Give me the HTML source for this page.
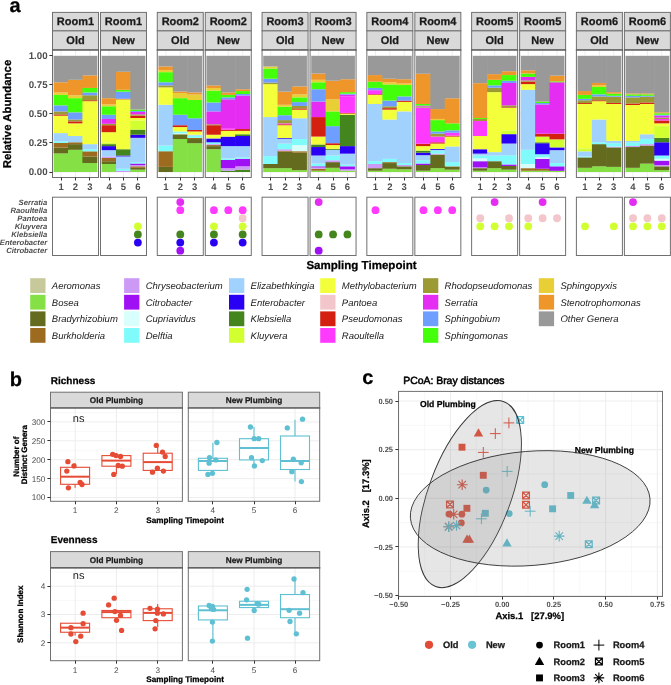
<!DOCTYPE html><html><head><meta charset="utf-8"><style>html,body{margin:0;padding:0;background:#fff;}svg{display:block;will-change:transform;}text{font-family:"Liberation Sans", sans-serif;text-rendering:geometricPrecision;}</style></head><body>
<svg width="671" height="685" viewBox="0 0 671 685">
<rect x="0" y="0" width="671" height="685" fill="#ffffff"/>
<text x="9.6" y="12.4" font-size="20" font-weight="bold" font-style="normal" text-anchor="start" fill="#000" stroke="#000" stroke-width="0.25">a</text>
<rect x="52.5" y="12.4" width="46" height="18.5" fill="#d9d9d9" stroke="#707070" stroke-width="1"/>
<rect x="52.5" y="30.9" width="46" height="19.1" fill="#d9d9d9" stroke="#707070" stroke-width="1"/>
<text x="75.5" y="25.2" font-size="11" font-weight="bold" font-style="normal" text-anchor="middle" fill="#1a1a1a" stroke="#1a1a1a" stroke-width="0.25">Room1</text>
<text x="75.5" y="44.4" font-size="11" font-weight="bold" font-style="normal" text-anchor="middle" fill="#1a1a1a" stroke="#1a1a1a" stroke-width="0.25">Old</text>
<rect x="52.5" y="50" width="46" height="127.5" fill="#ffffff"/>
<line x1="52.5" y1="157.49" x2="98.5" y2="157.49" stroke="#f1f1f1" stroke-width="0.5"/>
<line x1="52.5" y1="128.46" x2="98.5" y2="128.46" stroke="#f1f1f1" stroke-width="0.5"/>
<line x1="52.5" y1="99.44" x2="98.5" y2="99.44" stroke="#f1f1f1" stroke-width="0.5"/>
<line x1="52.5" y1="70.41" x2="98.5" y2="70.41" stroke="#f1f1f1" stroke-width="0.5"/>
<line x1="52.5" y1="172" x2="98.5" y2="172" stroke="#ebebeb" stroke-width="0.9"/>
<line x1="52.5" y1="142.97" x2="98.5" y2="142.97" stroke="#ebebeb" stroke-width="0.9"/>
<line x1="52.5" y1="113.95" x2="98.5" y2="113.95" stroke="#ebebeb" stroke-width="0.9"/>
<line x1="52.5" y1="84.93" x2="98.5" y2="84.93" stroke="#ebebeb" stroke-width="0.9"/>
<line x1="52.5" y1="55.9" x2="98.5" y2="55.9" stroke="#ebebeb" stroke-width="0.9"/>
<line x1="61.12" y1="50" x2="61.12" y2="177.5" stroke="#ebebeb" stroke-width="0.9"/>
<line x1="75.5" y1="50" x2="75.5" y2="177.5" stroke="#ebebeb" stroke-width="0.9"/>
<line x1="89.88" y1="50" x2="89.88" y2="177.5" stroke="#ebebeb" stroke-width="0.9"/>
<rect x="53.64" y="153.42" width="14.97" height="18.58" fill="#85e045"/>
<rect x="53.64" y="147.62" width="14.97" height="5.81" fill="#646b1e"/>
<rect x="53.64" y="142.97" width="14.97" height="4.64" fill="#9c6b20"/>
<rect x="53.64" y="141.23" width="14.97" height="1.74" fill="#80fbfb"/>
<rect x="53.64" y="133.11" width="14.97" height="8.13" fill="#a0d2fd"/>
<rect x="53.64" y="115.69" width="14.97" height="17.41" fill="#f2ff3a"/>
<rect x="53.64" y="114.41" width="14.97" height="1.28" fill="#d42010"/>
<rect x="53.64" y="111.4" width="14.97" height="3.02" fill="#9c9a35"/>
<rect x="53.64" y="105.36" width="14.97" height="6.04" fill="#6e9eff"/>
<rect x="53.64" y="94.91" width="14.97" height="10.45" fill="#44ff0a"/>
<rect x="53.64" y="92.47" width="14.97" height="2.44" fill="#e8cf35"/>
<rect x="53.64" y="82.25" width="14.97" height="10.22" fill="#ee962a"/>
<rect x="53.64" y="55.9" width="14.97" height="26.35" fill="#999999"/>
<rect x="68.01" y="149.82" width="14.97" height="22.18" fill="#85e045"/>
<rect x="68.01" y="144.14" width="14.97" height="5.69" fill="#646b1e"/>
<rect x="68.01" y="142.28" width="14.97" height="1.86" fill="#9c6b20"/>
<rect x="68.01" y="136.01" width="14.97" height="6.27" fill="#a0d2fd"/>
<rect x="68.01" y="123.35" width="14.97" height="12.65" fill="#f2ff3a"/>
<rect x="68.01" y="121.38" width="14.97" height="1.97" fill="#d42010"/>
<rect x="68.01" y="119.52" width="14.97" height="1.86" fill="#9c9a35"/>
<rect x="68.01" y="112.32" width="14.97" height="7.2" fill="#6e9eff"/>
<rect x="68.01" y="98.16" width="14.97" height="14.16" fill="#44ff0a"/>
<rect x="68.01" y="95.26" width="14.97" height="2.9" fill="#e8cf35"/>
<rect x="68.01" y="79.82" width="14.97" height="15.44" fill="#ee962a"/>
<rect x="68.01" y="55.9" width="14.97" height="23.92" fill="#999999"/>
<rect x="82.39" y="163.06" width="14.97" height="8.94" fill="#85e045"/>
<rect x="82.39" y="156.44" width="14.97" height="6.62" fill="#646b1e"/>
<rect x="82.39" y="151.33" width="14.97" height="5.11" fill="#9c6b20"/>
<rect x="82.39" y="149.24" width="14.97" height="2.09" fill="#80fbfb"/>
<rect x="82.39" y="144.14" width="14.97" height="5.11" fill="#a0d2fd"/>
<rect x="82.39" y="101.18" width="14.97" height="42.96" fill="#f2ff3a"/>
<rect x="82.39" y="100.25" width="14.97" height="0.93" fill="#d42010"/>
<rect x="82.39" y="95.26" width="14.97" height="4.99" fill="#9c9a35"/>
<rect x="82.39" y="92.47" width="14.97" height="2.79" fill="#6e9eff"/>
<rect x="82.39" y="87.94" width="14.97" height="4.53" fill="#44ff0a"/>
<rect x="82.39" y="75.4" width="14.97" height="12.54" fill="#ee962a"/>
<rect x="82.39" y="55.9" width="14.97" height="19.5" fill="#999999"/>
<rect x="52.5" y="50" width="46" height="127.5" fill="none" stroke="#707070" stroke-width="1"/>
<line x1="52" y1="50" x2="99" y2="50" stroke="#585858" stroke-width="1.2"/>
<line x1="61.5" y1="177.5" x2="61.5" y2="180.5" stroke="#333333" stroke-width="1"/>
<text x="61.12" y="189.6" font-size="9.5" font-weight="bold" font-style="normal" text-anchor="middle" fill="#4d4d4d">1</text>
<line x1="75.5" y1="177.5" x2="75.5" y2="180.5" stroke="#333333" stroke-width="1"/>
<text x="75.5" y="189.6" font-size="9.5" font-weight="bold" font-style="normal" text-anchor="middle" fill="#4d4d4d">2</text>
<line x1="89.5" y1="177.5" x2="89.5" y2="180.5" stroke="#333333" stroke-width="1"/>
<text x="89.88" y="189.6" font-size="9.5" font-weight="bold" font-style="normal" text-anchor="middle" fill="#4d4d4d">3</text>
<rect x="100.5" y="12.4" width="46" height="18.5" fill="#d9d9d9" stroke="#707070" stroke-width="1"/>
<rect x="100.5" y="30.9" width="46" height="19.1" fill="#d9d9d9" stroke="#707070" stroke-width="1"/>
<text x="123.5" y="25.2" font-size="11" font-weight="bold" font-style="normal" text-anchor="middle" fill="#1a1a1a" stroke="#1a1a1a" stroke-width="0.25">Room1</text>
<text x="123.5" y="44.4" font-size="11" font-weight="bold" font-style="normal" text-anchor="middle" fill="#1a1a1a" stroke="#1a1a1a" stroke-width="0.25">New</text>
<rect x="100.5" y="50" width="46" height="127.5" fill="#ffffff"/>
<line x1="100.5" y1="157.49" x2="146.5" y2="157.49" stroke="#f1f1f1" stroke-width="0.5"/>
<line x1="100.5" y1="128.46" x2="146.5" y2="128.46" stroke="#f1f1f1" stroke-width="0.5"/>
<line x1="100.5" y1="99.44" x2="146.5" y2="99.44" stroke="#f1f1f1" stroke-width="0.5"/>
<line x1="100.5" y1="70.41" x2="146.5" y2="70.41" stroke="#f1f1f1" stroke-width="0.5"/>
<line x1="100.5" y1="172" x2="146.5" y2="172" stroke="#ebebeb" stroke-width="0.9"/>
<line x1="100.5" y1="142.97" x2="146.5" y2="142.97" stroke="#ebebeb" stroke-width="0.9"/>
<line x1="100.5" y1="113.95" x2="146.5" y2="113.95" stroke="#ebebeb" stroke-width="0.9"/>
<line x1="100.5" y1="84.93" x2="146.5" y2="84.93" stroke="#ebebeb" stroke-width="0.9"/>
<line x1="100.5" y1="55.9" x2="146.5" y2="55.9" stroke="#ebebeb" stroke-width="0.9"/>
<line x1="109.12" y1="50" x2="109.12" y2="177.5" stroke="#ebebeb" stroke-width="0.9"/>
<line x1="123.5" y1="50" x2="123.5" y2="177.5" stroke="#ebebeb" stroke-width="0.9"/>
<line x1="137.88" y1="50" x2="137.88" y2="177.5" stroke="#ebebeb" stroke-width="0.9"/>
<rect x="101.64" y="163.99" width="14.97" height="8.01" fill="#85e045"/>
<rect x="101.64" y="161.2" width="14.97" height="2.79" fill="#646b1e"/>
<rect x="101.64" y="157.95" width="14.97" height="3.25" fill="#9c6b20"/>
<rect x="101.64" y="156.44" width="14.97" height="1.51" fill="#cc99f5"/>
<rect x="101.64" y="150.17" width="14.97" height="6.27" fill="#a0d2fd"/>
<rect x="101.64" y="146.11" width="14.97" height="4.06" fill="#2a00f5"/>
<rect x="101.64" y="144.14" width="14.97" height="1.97" fill="#45851e"/>
<rect x="101.64" y="142.63" width="14.97" height="1.51" fill="#d2ff30"/>
<rect x="101.64" y="132.18" width="14.97" height="10.45" fill="#f2ff3a"/>
<rect x="101.64" y="125.21" width="14.97" height="6.97" fill="#d42010"/>
<rect x="101.64" y="123.82" width="14.97" height="1.39" fill="#9c9a35"/>
<rect x="101.64" y="118.94" width="14.97" height="4.88" fill="#e52cf2"/>
<rect x="101.64" y="114.76" width="14.97" height="4.18" fill="#6e9eff"/>
<rect x="101.64" y="106.29" width="14.97" height="8.48" fill="#44ff0a"/>
<rect x="101.64" y="104.43" width="14.97" height="1.86" fill="#e8cf35"/>
<rect x="101.64" y="98.16" width="14.97" height="6.27" fill="#ee962a"/>
<rect x="101.64" y="55.9" width="14.97" height="42.26" fill="#999999"/>
<rect x="116.01" y="170.72" width="14.97" height="1.28" fill="#cc99f5"/>
<rect x="116.01" y="168.75" width="14.97" height="1.97" fill="#80fbfb"/>
<rect x="116.01" y="156.44" width="14.97" height="12.31" fill="#a0d2fd"/>
<rect x="116.01" y="155.51" width="14.97" height="0.93" fill="#2a00f5"/>
<rect x="116.01" y="149.24" width="14.97" height="6.27" fill="#45851e"/>
<rect x="116.01" y="99.32" width="14.97" height="49.92" fill="#f2ff3a"/>
<rect x="116.01" y="98.74" width="14.97" height="0.58" fill="#d42010"/>
<rect x="116.01" y="91.66" width="14.97" height="7.08" fill="#6e9eff"/>
<rect x="116.01" y="89.8" width="14.97" height="1.86" fill="#44ff0a"/>
<rect x="116.01" y="71.81" width="14.97" height="18" fill="#ee962a"/>
<rect x="116.01" y="55.9" width="14.97" height="15.91" fill="#999999"/>
<rect x="130.39" y="169.68" width="14.97" height="2.32" fill="#85e045"/>
<rect x="130.39" y="167.82" width="14.97" height="1.86" fill="#646b1e"/>
<rect x="130.39" y="166.31" width="14.97" height="1.51" fill="#9c6b20"/>
<rect x="130.39" y="165.03" width="14.97" height="1.28" fill="#cc99f5"/>
<rect x="130.39" y="163.52" width="14.97" height="1.51" fill="#a010f5"/>
<rect x="130.39" y="162.13" width="14.97" height="1.39" fill="#80fbfb"/>
<rect x="130.39" y="137.87" width="14.97" height="24.26" fill="#a0d2fd"/>
<rect x="130.39" y="134.73" width="14.97" height="3.13" fill="#2a00f5"/>
<rect x="130.39" y="129.62" width="14.97" height="5.11" fill="#45851e"/>
<rect x="130.39" y="120.45" width="14.97" height="9.17" fill="#d2ff30"/>
<rect x="130.39" y="118.01" width="14.97" height="2.44" fill="#f2ff3a"/>
<rect x="130.39" y="115.69" width="14.97" height="2.32" fill="#d42010"/>
<rect x="130.39" y="114.41" width="14.97" height="1.28" fill="#9c9a35"/>
<rect x="130.39" y="111.98" width="14.97" height="2.44" fill="#e52cf2"/>
<rect x="130.39" y="111.05" width="14.97" height="0.93" fill="#6e9eff"/>
<rect x="130.39" y="109.54" width="14.97" height="1.51" fill="#44ff0a"/>
<rect x="130.39" y="55.9" width="14.97" height="53.64" fill="#999999"/>
<rect x="100.5" y="50" width="46" height="127.5" fill="none" stroke="#707070" stroke-width="1"/>
<line x1="100" y1="50" x2="147" y2="50" stroke="#585858" stroke-width="1.2"/>
<line x1="109.5" y1="177.5" x2="109.5" y2="180.5" stroke="#333333" stroke-width="1"/>
<text x="109.12" y="189.6" font-size="9.5" font-weight="bold" font-style="normal" text-anchor="middle" fill="#4d4d4d">4</text>
<line x1="123.5" y1="177.5" x2="123.5" y2="180.5" stroke="#333333" stroke-width="1"/>
<text x="123.5" y="189.6" font-size="9.5" font-weight="bold" font-style="normal" text-anchor="middle" fill="#4d4d4d">5</text>
<line x1="137.5" y1="177.5" x2="137.5" y2="180.5" stroke="#333333" stroke-width="1"/>
<text x="137.88" y="189.6" font-size="9.5" font-weight="bold" font-style="normal" text-anchor="middle" fill="#4d4d4d">6</text>
<rect x="157.28" y="12.4" width="46" height="18.5" fill="#d9d9d9" stroke="#707070" stroke-width="1"/>
<rect x="157.28" y="30.9" width="46" height="19.1" fill="#d9d9d9" stroke="#707070" stroke-width="1"/>
<text x="180.28" y="25.2" font-size="11" font-weight="bold" font-style="normal" text-anchor="middle" fill="#1a1a1a" stroke="#1a1a1a" stroke-width="0.25">Room2</text>
<text x="180.28" y="44.4" font-size="11" font-weight="bold" font-style="normal" text-anchor="middle" fill="#1a1a1a" stroke="#1a1a1a" stroke-width="0.25">Old</text>
<rect x="157.28" y="50" width="46" height="127.5" fill="#ffffff"/>
<line x1="157.28" y1="157.49" x2="203.28" y2="157.49" stroke="#f1f1f1" stroke-width="0.5"/>
<line x1="157.28" y1="128.46" x2="203.28" y2="128.46" stroke="#f1f1f1" stroke-width="0.5"/>
<line x1="157.28" y1="99.44" x2="203.28" y2="99.44" stroke="#f1f1f1" stroke-width="0.5"/>
<line x1="157.28" y1="70.41" x2="203.28" y2="70.41" stroke="#f1f1f1" stroke-width="0.5"/>
<line x1="157.28" y1="172" x2="203.28" y2="172" stroke="#ebebeb" stroke-width="0.9"/>
<line x1="157.28" y1="142.97" x2="203.28" y2="142.97" stroke="#ebebeb" stroke-width="0.9"/>
<line x1="157.28" y1="113.95" x2="203.28" y2="113.95" stroke="#ebebeb" stroke-width="0.9"/>
<line x1="157.28" y1="84.93" x2="203.28" y2="84.93" stroke="#ebebeb" stroke-width="0.9"/>
<line x1="157.28" y1="55.9" x2="203.28" y2="55.9" stroke="#ebebeb" stroke-width="0.9"/>
<line x1="165.91" y1="50" x2="165.91" y2="177.5" stroke="#ebebeb" stroke-width="0.9"/>
<line x1="180.28" y1="50" x2="180.28" y2="177.5" stroke="#ebebeb" stroke-width="0.9"/>
<line x1="194.66" y1="50" x2="194.66" y2="177.5" stroke="#ebebeb" stroke-width="0.9"/>
<rect x="158.42" y="166.89" width="14.97" height="5.11" fill="#646b1e"/>
<rect x="158.42" y="151.22" width="14.97" height="15.67" fill="#9c6b20"/>
<rect x="158.42" y="145.53" width="14.97" height="5.69" fill="#80fbfb"/>
<rect x="158.42" y="104.78" width="14.97" height="40.75" fill="#a0d2fd"/>
<rect x="158.42" y="87.36" width="14.97" height="17.42" fill="#f2ff3a"/>
<rect x="158.42" y="85.39" width="14.97" height="1.97" fill="#9c9a35"/>
<rect x="158.42" y="82.25" width="14.97" height="3.13" fill="#6e9eff"/>
<rect x="158.42" y="72.15" width="14.97" height="10.1" fill="#44ff0a"/>
<rect x="158.42" y="69.95" width="14.97" height="2.21" fill="#e8cf35"/>
<rect x="158.42" y="66.47" width="14.97" height="3.48" fill="#ee962a"/>
<rect x="158.42" y="55.9" width="14.97" height="10.57" fill="#999999"/>
<rect x="172.79" y="139.03" width="14.97" height="32.97" fill="#85e045"/>
<rect x="172.79" y="134.27" width="14.97" height="4.76" fill="#646b1e"/>
<rect x="172.79" y="133.34" width="14.97" height="0.93" fill="#d8fffb"/>
<rect x="172.79" y="131.48" width="14.97" height="1.86" fill="#80fbfb"/>
<rect x="172.79" y="127.07" width="14.97" height="4.41" fill="#f2ff3a"/>
<rect x="172.79" y="125.21" width="14.97" height="1.86" fill="#d42010"/>
<rect x="172.79" y="114.76" width="14.97" height="10.45" fill="#6e9eff"/>
<rect x="172.79" y="98.16" width="14.97" height="16.6" fill="#44ff0a"/>
<rect x="172.79" y="93.05" width="14.97" height="5.11" fill="#e8cf35"/>
<rect x="172.79" y="91.54" width="14.97" height="1.51" fill="#ee962a"/>
<rect x="172.79" y="55.9" width="14.97" height="35.64" fill="#999999"/>
<rect x="187.17" y="143.21" width="14.97" height="28.79" fill="#85e045"/>
<rect x="187.17" y="139.03" width="14.97" height="4.18" fill="#646b1e"/>
<rect x="187.17" y="137.87" width="14.97" height="1.16" fill="#9c6b20"/>
<rect x="187.17" y="135.66" width="14.97" height="2.21" fill="#80fbfb"/>
<rect x="187.17" y="134.73" width="14.97" height="0.93" fill="#a0d2fd"/>
<rect x="187.17" y="131.48" width="14.97" height="3.25" fill="#f2ff3a"/>
<rect x="187.17" y="129.97" width="14.97" height="1.51" fill="#d42010"/>
<rect x="187.17" y="118.25" width="14.97" height="11.73" fill="#6e9eff"/>
<rect x="187.17" y="100.02" width="14.97" height="18.23" fill="#44ff0a"/>
<rect x="187.17" y="94.56" width="14.97" height="5.46" fill="#e8cf35"/>
<rect x="187.17" y="92.47" width="14.97" height="2.09" fill="#ee962a"/>
<rect x="187.17" y="55.9" width="14.97" height="36.57" fill="#999999"/>
<rect x="157.28" y="50" width="46" height="127.5" fill="none" stroke="#707070" stroke-width="1"/>
<line x1="156.78" y1="50" x2="203.78" y2="50" stroke="#585858" stroke-width="1.2"/>
<line x1="165.5" y1="177.5" x2="165.5" y2="180.5" stroke="#333333" stroke-width="1"/>
<text x="165.91" y="189.6" font-size="9.5" font-weight="bold" font-style="normal" text-anchor="middle" fill="#4d4d4d">1</text>
<line x1="180.5" y1="177.5" x2="180.5" y2="180.5" stroke="#333333" stroke-width="1"/>
<text x="180.28" y="189.6" font-size="9.5" font-weight="bold" font-style="normal" text-anchor="middle" fill="#4d4d4d">2</text>
<line x1="194.5" y1="177.5" x2="194.5" y2="180.5" stroke="#333333" stroke-width="1"/>
<text x="194.66" y="189.6" font-size="9.5" font-weight="bold" font-style="normal" text-anchor="middle" fill="#4d4d4d">3</text>
<rect x="205.28" y="12.4" width="46" height="18.5" fill="#d9d9d9" stroke="#707070" stroke-width="1"/>
<rect x="205.28" y="30.9" width="46" height="19.1" fill="#d9d9d9" stroke="#707070" stroke-width="1"/>
<text x="228.28" y="25.2" font-size="11" font-weight="bold" font-style="normal" text-anchor="middle" fill="#1a1a1a" stroke="#1a1a1a" stroke-width="0.25">Room2</text>
<text x="228.28" y="44.4" font-size="11" font-weight="bold" font-style="normal" text-anchor="middle" fill="#1a1a1a" stroke="#1a1a1a" stroke-width="0.25">New</text>
<rect x="205.28" y="50" width="46" height="127.5" fill="#ffffff"/>
<line x1="205.28" y1="157.49" x2="251.28" y2="157.49" stroke="#f1f1f1" stroke-width="0.5"/>
<line x1="205.28" y1="128.46" x2="251.28" y2="128.46" stroke="#f1f1f1" stroke-width="0.5"/>
<line x1="205.28" y1="99.44" x2="251.28" y2="99.44" stroke="#f1f1f1" stroke-width="0.5"/>
<line x1="205.28" y1="70.41" x2="251.28" y2="70.41" stroke="#f1f1f1" stroke-width="0.5"/>
<line x1="205.28" y1="172" x2="251.28" y2="172" stroke="#ebebeb" stroke-width="0.9"/>
<line x1="205.28" y1="142.97" x2="251.28" y2="142.97" stroke="#ebebeb" stroke-width="0.9"/>
<line x1="205.28" y1="113.95" x2="251.28" y2="113.95" stroke="#ebebeb" stroke-width="0.9"/>
<line x1="205.28" y1="84.93" x2="251.28" y2="84.93" stroke="#ebebeb" stroke-width="0.9"/>
<line x1="205.28" y1="55.9" x2="251.28" y2="55.9" stroke="#ebebeb" stroke-width="0.9"/>
<line x1="213.91" y1="50" x2="213.91" y2="177.5" stroke="#ebebeb" stroke-width="0.9"/>
<line x1="228.28" y1="50" x2="228.28" y2="177.5" stroke="#ebebeb" stroke-width="0.9"/>
<line x1="242.66" y1="50" x2="242.66" y2="177.5" stroke="#ebebeb" stroke-width="0.9"/>
<rect x="206.42" y="149.24" width="14.97" height="22.76" fill="#85e045"/>
<rect x="206.42" y="146.11" width="14.97" height="3.13" fill="#646b1e"/>
<rect x="206.42" y="145.06" width="14.97" height="1.04" fill="#9c6b20"/>
<rect x="206.42" y="144.14" width="14.97" height="0.93" fill="#cc99f5"/>
<rect x="206.42" y="142.28" width="14.97" height="1.86" fill="#80fbfb"/>
<rect x="206.42" y="138.45" width="14.97" height="3.83" fill="#2a00f5"/>
<rect x="206.42" y="134.73" width="14.97" height="3.72" fill="#f2ff3a"/>
<rect x="206.42" y="125.21" width="14.97" height="9.52" fill="#d42010"/>
<rect x="206.42" y="124.28" width="14.97" height="0.93" fill="#9c9a35"/>
<rect x="206.42" y="111.4" width="14.97" height="12.89" fill="#e52cf2"/>
<rect x="206.42" y="102.46" width="14.97" height="8.94" fill="#6e9eff"/>
<rect x="206.42" y="90.61" width="14.97" height="11.84" fill="#44ff0a"/>
<rect x="206.42" y="87.94" width="14.97" height="2.67" fill="#e8cf35"/>
<rect x="206.42" y="85.51" width="14.97" height="2.44" fill="#ee962a"/>
<rect x="206.42" y="55.9" width="14.97" height="29.61" fill="#999999"/>
<rect x="220.79" y="170.72" width="14.97" height="1.28" fill="#45851e"/>
<rect x="220.79" y="168.17" width="14.97" height="2.55" fill="#cc99f5"/>
<rect x="220.79" y="159.93" width="14.97" height="8.24" fill="#a010f5"/>
<rect x="220.79" y="158.42" width="14.97" height="1.51" fill="#80fbfb"/>
<rect x="220.79" y="146.11" width="14.97" height="12.31" fill="#a0d2fd"/>
<rect x="220.79" y="136.59" width="14.97" height="9.52" fill="#2a00f5"/>
<rect x="220.79" y="130.9" width="14.97" height="5.69" fill="#f2ff3a"/>
<rect x="220.79" y="129.62" width="14.97" height="1.28" fill="#d42010"/>
<rect x="220.79" y="128.11" width="14.97" height="1.51" fill="#ff3aff"/>
<rect x="220.79" y="99.32" width="14.97" height="28.79" fill="#e52cf2"/>
<rect x="220.79" y="97.35" width="14.97" height="1.97" fill="#6e9eff"/>
<rect x="220.79" y="94.91" width="14.97" height="2.44" fill="#44ff0a"/>
<rect x="220.79" y="92.47" width="14.97" height="2.44" fill="#ee962a"/>
<rect x="220.79" y="55.9" width="14.97" height="36.57" fill="#999999"/>
<rect x="235.17" y="169.68" width="14.97" height="2.32" fill="#45851e"/>
<rect x="235.17" y="166.31" width="14.97" height="3.37" fill="#cc99f5"/>
<rect x="235.17" y="158.76" width="14.97" height="7.55" fill="#a010f5"/>
<rect x="235.17" y="157.37" width="14.97" height="1.39" fill="#80fbfb"/>
<rect x="235.17" y="146.11" width="14.97" height="11.26" fill="#a0d2fd"/>
<rect x="235.17" y="136.01" width="14.97" height="10.1" fill="#2a00f5"/>
<rect x="235.17" y="134.27" width="14.97" height="1.74" fill="#45851e"/>
<rect x="235.17" y="130.9" width="14.97" height="3.37" fill="#f2ff3a"/>
<rect x="235.17" y="129.04" width="14.97" height="1.86" fill="#d42010"/>
<rect x="235.17" y="95.49" width="14.97" height="33.55" fill="#e52cf2"/>
<rect x="235.17" y="93.98" width="14.97" height="1.51" fill="#6e9eff"/>
<rect x="235.17" y="91.08" width="14.97" height="2.9" fill="#44ff0a"/>
<rect x="235.17" y="89.22" width="14.97" height="1.86" fill="#ee962a"/>
<rect x="235.17" y="55.9" width="14.97" height="33.32" fill="#999999"/>
<rect x="205.28" y="50" width="46" height="127.5" fill="none" stroke="#707070" stroke-width="1"/>
<line x1="204.78" y1="50" x2="251.78" y2="50" stroke="#585858" stroke-width="1.2"/>
<line x1="213.5" y1="177.5" x2="213.5" y2="180.5" stroke="#333333" stroke-width="1"/>
<text x="213.91" y="189.6" font-size="9.5" font-weight="bold" font-style="normal" text-anchor="middle" fill="#4d4d4d">4</text>
<line x1="228.5" y1="177.5" x2="228.5" y2="180.5" stroke="#333333" stroke-width="1"/>
<text x="228.28" y="189.6" font-size="9.5" font-weight="bold" font-style="normal" text-anchor="middle" fill="#4d4d4d">5</text>
<line x1="242.5" y1="177.5" x2="242.5" y2="180.5" stroke="#333333" stroke-width="1"/>
<text x="242.66" y="189.6" font-size="9.5" font-weight="bold" font-style="normal" text-anchor="middle" fill="#4d4d4d">6</text>
<rect x="262.06" y="12.4" width="46" height="18.5" fill="#d9d9d9" stroke="#707070" stroke-width="1"/>
<rect x="262.06" y="30.9" width="46" height="19.1" fill="#d9d9d9" stroke="#707070" stroke-width="1"/>
<text x="285.06" y="25.2" font-size="11" font-weight="bold" font-style="normal" text-anchor="middle" fill="#1a1a1a" stroke="#1a1a1a" stroke-width="0.25">Room3</text>
<text x="285.06" y="44.4" font-size="11" font-weight="bold" font-style="normal" text-anchor="middle" fill="#1a1a1a" stroke="#1a1a1a" stroke-width="0.25">Old</text>
<rect x="262.06" y="50" width="46" height="127.5" fill="#ffffff"/>
<line x1="262.06" y1="157.49" x2="308.06" y2="157.49" stroke="#f1f1f1" stroke-width="0.5"/>
<line x1="262.06" y1="128.46" x2="308.06" y2="128.46" stroke="#f1f1f1" stroke-width="0.5"/>
<line x1="262.06" y1="99.44" x2="308.06" y2="99.44" stroke="#f1f1f1" stroke-width="0.5"/>
<line x1="262.06" y1="70.41" x2="308.06" y2="70.41" stroke="#f1f1f1" stroke-width="0.5"/>
<line x1="262.06" y1="172" x2="308.06" y2="172" stroke="#ebebeb" stroke-width="0.9"/>
<line x1="262.06" y1="142.97" x2="308.06" y2="142.97" stroke="#ebebeb" stroke-width="0.9"/>
<line x1="262.06" y1="113.95" x2="308.06" y2="113.95" stroke="#ebebeb" stroke-width="0.9"/>
<line x1="262.06" y1="84.93" x2="308.06" y2="84.93" stroke="#ebebeb" stroke-width="0.9"/>
<line x1="262.06" y1="55.9" x2="308.06" y2="55.9" stroke="#ebebeb" stroke-width="0.9"/>
<line x1="270.69" y1="50" x2="270.69" y2="177.5" stroke="#ebebeb" stroke-width="0.9"/>
<line x1="285.06" y1="50" x2="285.06" y2="177.5" stroke="#ebebeb" stroke-width="0.9"/>
<line x1="299.44" y1="50" x2="299.44" y2="177.5" stroke="#ebebeb" stroke-width="0.9"/>
<rect x="263.2" y="168.17" width="14.97" height="3.83" fill="#85e045"/>
<rect x="263.2" y="163.99" width="14.97" height="4.18" fill="#646b1e"/>
<rect x="263.2" y="156.09" width="14.97" height="7.89" fill="#80fbfb"/>
<rect x="263.2" y="117.08" width="14.97" height="39.01" fill="#a0d2fd"/>
<rect x="263.2" y="84.11" width="14.97" height="32.97" fill="#f2ff3a"/>
<rect x="263.2" y="82.6" width="14.97" height="1.51" fill="#9c9a35"/>
<rect x="263.2" y="78.77" width="14.97" height="3.83" fill="#6e9eff"/>
<rect x="263.2" y="68.44" width="14.97" height="10.33" fill="#44ff0a"/>
<rect x="263.2" y="66.47" width="14.97" height="1.97" fill="#e8cf35"/>
<rect x="263.2" y="55.9" width="14.97" height="10.57" fill="#999999"/>
<rect x="277.57" y="168.17" width="14.97" height="3.83" fill="#85e045"/>
<rect x="277.57" y="151.68" width="14.97" height="16.49" fill="#646b1e"/>
<rect x="277.57" y="150.75" width="14.97" height="0.93" fill="#9c6b20"/>
<rect x="277.57" y="149.24" width="14.97" height="1.51" fill="#cc99f5"/>
<rect x="277.57" y="143.56" width="14.97" height="5.69" fill="#80fbfb"/>
<rect x="277.57" y="138.91" width="14.97" height="4.64" fill="#a0d2fd"/>
<rect x="277.57" y="138.1" width="14.97" height="0.81" fill="#2a00f5"/>
<rect x="277.57" y="125.21" width="14.97" height="12.89" fill="#f2ff3a"/>
<rect x="277.57" y="124.28" width="14.97" height="0.93" fill="#d42010"/>
<rect x="277.57" y="123.35" width="14.97" height="0.93" fill="#ff3aff"/>
<rect x="277.57" y="120.1" width="14.97" height="3.25" fill="#9c9a35"/>
<rect x="277.57" y="115.23" width="14.97" height="4.88" fill="#6e9eff"/>
<rect x="277.57" y="106.64" width="14.97" height="8.59" fill="#44ff0a"/>
<rect x="277.57" y="104.78" width="14.97" height="1.86" fill="#e8cf35"/>
<rect x="277.57" y="91.66" width="14.97" height="13.12" fill="#ee962a"/>
<rect x="277.57" y="55.9" width="14.97" height="35.76" fill="#999999"/>
<rect x="291.95" y="170.14" width="14.97" height="1.86" fill="#85e045"/>
<rect x="291.95" y="152.73" width="14.97" height="17.42" fill="#646b1e"/>
<rect x="291.95" y="151.22" width="14.97" height="1.51" fill="#9c6b20"/>
<rect x="291.95" y="145.06" width="14.97" height="6.15" fill="#d8fffb"/>
<rect x="291.95" y="139.03" width="14.97" height="6.04" fill="#80fbfb"/>
<rect x="291.95" y="118.25" width="14.97" height="20.78" fill="#a0d2fd"/>
<rect x="291.95" y="109.65" width="14.97" height="8.59" fill="#f2ff3a"/>
<rect x="291.95" y="108.38" width="14.97" height="1.28" fill="#d42010"/>
<rect x="291.95" y="105.94" width="14.97" height="2.44" fill="#9c9a35"/>
<rect x="291.95" y="102.11" width="14.97" height="3.83" fill="#6e9eff"/>
<rect x="291.95" y="97.35" width="14.97" height="4.76" fill="#44ff0a"/>
<rect x="291.95" y="94.33" width="14.97" height="3.02" fill="#e8cf35"/>
<rect x="291.95" y="86.43" width="14.97" height="7.89" fill="#ee962a"/>
<rect x="291.95" y="55.9" width="14.97" height="30.53" fill="#999999"/>
<rect x="262.06" y="50" width="46" height="127.5" fill="none" stroke="#707070" stroke-width="1"/>
<line x1="261.56" y1="50" x2="308.56" y2="50" stroke="#585858" stroke-width="1.2"/>
<line x1="270.5" y1="177.5" x2="270.5" y2="180.5" stroke="#333333" stroke-width="1"/>
<text x="270.69" y="189.6" font-size="9.5" font-weight="bold" font-style="normal" text-anchor="middle" fill="#4d4d4d">1</text>
<line x1="285.5" y1="177.5" x2="285.5" y2="180.5" stroke="#333333" stroke-width="1"/>
<text x="285.06" y="189.6" font-size="9.5" font-weight="bold" font-style="normal" text-anchor="middle" fill="#4d4d4d">2</text>
<line x1="299.5" y1="177.5" x2="299.5" y2="180.5" stroke="#333333" stroke-width="1"/>
<text x="299.44" y="189.6" font-size="9.5" font-weight="bold" font-style="normal" text-anchor="middle" fill="#4d4d4d">3</text>
<rect x="310.06" y="12.4" width="46" height="18.5" fill="#d9d9d9" stroke="#707070" stroke-width="1"/>
<rect x="310.06" y="30.9" width="46" height="19.1" fill="#d9d9d9" stroke="#707070" stroke-width="1"/>
<text x="333.06" y="25.2" font-size="11" font-weight="bold" font-style="normal" text-anchor="middle" fill="#1a1a1a" stroke="#1a1a1a" stroke-width="0.25">Room3</text>
<text x="333.06" y="44.4" font-size="11" font-weight="bold" font-style="normal" text-anchor="middle" fill="#1a1a1a" stroke="#1a1a1a" stroke-width="0.25">New</text>
<rect x="310.06" y="50" width="46" height="127.5" fill="#ffffff"/>
<line x1="310.06" y1="157.49" x2="356.06" y2="157.49" stroke="#f1f1f1" stroke-width="0.5"/>
<line x1="310.06" y1="128.46" x2="356.06" y2="128.46" stroke="#f1f1f1" stroke-width="0.5"/>
<line x1="310.06" y1="99.44" x2="356.06" y2="99.44" stroke="#f1f1f1" stroke-width="0.5"/>
<line x1="310.06" y1="70.41" x2="356.06" y2="70.41" stroke="#f1f1f1" stroke-width="0.5"/>
<line x1="310.06" y1="172" x2="356.06" y2="172" stroke="#ebebeb" stroke-width="0.9"/>
<line x1="310.06" y1="142.97" x2="356.06" y2="142.97" stroke="#ebebeb" stroke-width="0.9"/>
<line x1="310.06" y1="113.95" x2="356.06" y2="113.95" stroke="#ebebeb" stroke-width="0.9"/>
<line x1="310.06" y1="84.93" x2="356.06" y2="84.93" stroke="#ebebeb" stroke-width="0.9"/>
<line x1="310.06" y1="55.9" x2="356.06" y2="55.9" stroke="#ebebeb" stroke-width="0.9"/>
<line x1="318.69" y1="50" x2="318.69" y2="177.5" stroke="#ebebeb" stroke-width="0.9"/>
<line x1="333.06" y1="50" x2="333.06" y2="177.5" stroke="#ebebeb" stroke-width="0.9"/>
<line x1="347.44" y1="50" x2="347.44" y2="177.5" stroke="#ebebeb" stroke-width="0.9"/>
<rect x="311.2" y="170.72" width="14.97" height="1.28" fill="#85e045"/>
<rect x="311.2" y="168.75" width="14.97" height="1.97" fill="#9c6b20"/>
<rect x="311.2" y="167.47" width="14.97" height="1.28" fill="#cc99f5"/>
<rect x="311.2" y="166.31" width="14.97" height="1.16" fill="#a010f5"/>
<rect x="311.2" y="163.52" width="14.97" height="2.79" fill="#80fbfb"/>
<rect x="311.2" y="155.51" width="14.97" height="8.01" fill="#a0d2fd"/>
<rect x="311.2" y="147.04" width="14.97" height="8.48" fill="#2a00f5"/>
<rect x="311.2" y="144.48" width="14.97" height="2.55" fill="#45851e"/>
<rect x="311.2" y="136.59" width="14.97" height="7.89" fill="#f2ff3a"/>
<rect x="311.2" y="117.08" width="14.97" height="19.5" fill="#d42010"/>
<rect x="311.2" y="101.53" width="14.97" height="15.56" fill="#e52cf2"/>
<rect x="311.2" y="89.22" width="14.97" height="12.31" fill="#6e9eff"/>
<rect x="311.2" y="82.25" width="14.97" height="6.97" fill="#44ff0a"/>
<rect x="311.2" y="79.82" width="14.97" height="2.44" fill="#e8cf35"/>
<rect x="311.2" y="73.55" width="14.97" height="6.27" fill="#ee962a"/>
<rect x="311.2" y="55.9" width="14.97" height="17.65" fill="#999999"/>
<rect x="325.57" y="167.82" width="14.97" height="4.18" fill="#85e045"/>
<rect x="325.57" y="162.13" width="14.97" height="5.69" fill="#646b1e"/>
<rect x="325.57" y="160.27" width="14.97" height="1.86" fill="#cc99f5"/>
<rect x="325.57" y="155.51" width="14.97" height="4.76" fill="#80fbfb"/>
<rect x="325.57" y="149.82" width="14.97" height="5.69" fill="#a0d2fd"/>
<rect x="325.57" y="148.9" width="14.97" height="0.93" fill="#45851e"/>
<rect x="325.57" y="145.06" width="14.97" height="3.83" fill="#f2ff3a"/>
<rect x="325.57" y="143.21" width="14.97" height="1.86" fill="#d42010"/>
<rect x="325.57" y="126.14" width="14.97" height="17.07" fill="#6e9eff"/>
<rect x="325.57" y="111.4" width="14.97" height="14.74" fill="#44ff0a"/>
<rect x="325.57" y="99.32" width="14.97" height="12.07" fill="#e8cf35"/>
<rect x="325.57" y="80.75" width="14.97" height="18.58" fill="#ee962a"/>
<rect x="325.57" y="55.9" width="14.97" height="24.85" fill="#999999"/>
<rect x="339.95" y="170.72" width="14.97" height="1.28" fill="#85e045"/>
<rect x="339.95" y="169.33" width="14.97" height="1.39" fill="#cc99f5"/>
<rect x="339.95" y="166.31" width="14.97" height="3.02" fill="#a010f5"/>
<rect x="339.95" y="164.57" width="14.97" height="1.74" fill="#80fbfb"/>
<rect x="339.95" y="153.66" width="14.97" height="10.91" fill="#a0d2fd"/>
<rect x="339.95" y="146.11" width="14.97" height="7.55" fill="#2a00f5"/>
<rect x="339.95" y="114.76" width="14.97" height="31.35" fill="#45851e"/>
<rect x="339.95" y="113.6" width="14.97" height="1.16" fill="#f2ff3a"/>
<rect x="339.95" y="112.91" width="14.97" height="0.7" fill="#d42010"/>
<rect x="339.95" y="96.19" width="14.97" height="16.72" fill="#ff3aff"/>
<rect x="339.95" y="94.68" width="14.97" height="1.51" fill="#e52cf2"/>
<rect x="339.95" y="93.75" width="14.97" height="0.93" fill="#6e9eff"/>
<rect x="339.95" y="92.12" width="14.97" height="1.63" fill="#44ff0a"/>
<rect x="339.95" y="79.24" width="14.97" height="12.89" fill="#ee962a"/>
<rect x="339.95" y="55.9" width="14.97" height="23.34" fill="#999999"/>
<rect x="310.06" y="50" width="46" height="127.5" fill="none" stroke="#707070" stroke-width="1"/>
<line x1="309.56" y1="50" x2="356.56" y2="50" stroke="#585858" stroke-width="1.2"/>
<line x1="318.5" y1="177.5" x2="318.5" y2="180.5" stroke="#333333" stroke-width="1"/>
<text x="318.69" y="189.6" font-size="9.5" font-weight="bold" font-style="normal" text-anchor="middle" fill="#4d4d4d">4</text>
<line x1="333.5" y1="177.5" x2="333.5" y2="180.5" stroke="#333333" stroke-width="1"/>
<text x="333.06" y="189.6" font-size="9.5" font-weight="bold" font-style="normal" text-anchor="middle" fill="#4d4d4d">5</text>
<line x1="347.5" y1="177.5" x2="347.5" y2="180.5" stroke="#333333" stroke-width="1"/>
<text x="347.44" y="189.6" font-size="9.5" font-weight="bold" font-style="normal" text-anchor="middle" fill="#4d4d4d">6</text>
<rect x="366.84" y="12.4" width="46" height="18.5" fill="#d9d9d9" stroke="#707070" stroke-width="1"/>
<rect x="366.84" y="30.9" width="46" height="19.1" fill="#d9d9d9" stroke="#707070" stroke-width="1"/>
<text x="389.84" y="25.2" font-size="11" font-weight="bold" font-style="normal" text-anchor="middle" fill="#1a1a1a" stroke="#1a1a1a" stroke-width="0.25">Room4</text>
<text x="389.84" y="44.4" font-size="11" font-weight="bold" font-style="normal" text-anchor="middle" fill="#1a1a1a" stroke="#1a1a1a" stroke-width="0.25">Old</text>
<rect x="366.84" y="50" width="46" height="127.5" fill="#ffffff"/>
<line x1="366.84" y1="157.49" x2="412.84" y2="157.49" stroke="#f1f1f1" stroke-width="0.5"/>
<line x1="366.84" y1="128.46" x2="412.84" y2="128.46" stroke="#f1f1f1" stroke-width="0.5"/>
<line x1="366.84" y1="99.44" x2="412.84" y2="99.44" stroke="#f1f1f1" stroke-width="0.5"/>
<line x1="366.84" y1="70.41" x2="412.84" y2="70.41" stroke="#f1f1f1" stroke-width="0.5"/>
<line x1="366.84" y1="172" x2="412.84" y2="172" stroke="#ebebeb" stroke-width="0.9"/>
<line x1="366.84" y1="142.97" x2="412.84" y2="142.97" stroke="#ebebeb" stroke-width="0.9"/>
<line x1="366.84" y1="113.95" x2="412.84" y2="113.95" stroke="#ebebeb" stroke-width="0.9"/>
<line x1="366.84" y1="84.93" x2="412.84" y2="84.93" stroke="#ebebeb" stroke-width="0.9"/>
<line x1="366.84" y1="55.9" x2="412.84" y2="55.9" stroke="#ebebeb" stroke-width="0.9"/>
<line x1="375.47" y1="50" x2="375.47" y2="177.5" stroke="#ebebeb" stroke-width="0.9"/>
<line x1="389.84" y1="50" x2="389.84" y2="177.5" stroke="#ebebeb" stroke-width="0.9"/>
<line x1="404.22" y1="50" x2="404.22" y2="177.5" stroke="#ebebeb" stroke-width="0.9"/>
<rect x="367.98" y="170.72" width="14.97" height="1.28" fill="#85e045"/>
<rect x="367.98" y="168.17" width="14.97" height="2.55" fill="#646b1e"/>
<rect x="367.98" y="163.99" width="14.97" height="4.18" fill="#cc99f5"/>
<rect x="367.98" y="161.2" width="14.97" height="2.79" fill="#80fbfb"/>
<rect x="367.98" y="103.97" width="14.97" height="57.24" fill="#a0d2fd"/>
<rect x="367.98" y="94.91" width="14.97" height="9.06" fill="#f2ff3a"/>
<rect x="367.98" y="94.21" width="14.97" height="0.7" fill="#d42010"/>
<rect x="367.98" y="90.15" width="14.97" height="4.06" fill="#ff3aff"/>
<rect x="367.98" y="87.94" width="14.97" height="2.21" fill="#6e9eff"/>
<rect x="367.98" y="81.67" width="14.97" height="6.27" fill="#44ff0a"/>
<rect x="367.98" y="75.06" width="14.97" height="6.62" fill="#ee962a"/>
<rect x="367.98" y="55.9" width="14.97" height="19.16" fill="#999999"/>
<rect x="382.35" y="168.75" width="14.97" height="3.25" fill="#85e045"/>
<rect x="382.35" y="163.06" width="14.97" height="5.69" fill="#646b1e"/>
<rect x="382.35" y="162.13" width="14.97" height="0.93" fill="#9c6b20"/>
<rect x="382.35" y="158.88" width="14.97" height="3.25" fill="#80fbfb"/>
<rect x="382.35" y="119.52" width="14.97" height="39.36" fill="#a0d2fd"/>
<rect x="382.35" y="109.65" width="14.97" height="9.87" fill="#f2ff3a"/>
<rect x="382.35" y="108.14" width="14.97" height="1.51" fill="#d42010"/>
<rect x="382.35" y="106.29" width="14.97" height="1.86" fill="#9c9a35"/>
<rect x="382.35" y="100.6" width="14.97" height="5.69" fill="#6e9eff"/>
<rect x="382.35" y="84.46" width="14.97" height="16.14" fill="#44ff0a"/>
<rect x="382.35" y="82.25" width="14.97" height="2.21" fill="#e8cf35"/>
<rect x="382.35" y="78.77" width="14.97" height="3.48" fill="#ee962a"/>
<rect x="382.35" y="55.9" width="14.97" height="22.87" fill="#999999"/>
<rect x="396.73" y="169.33" width="14.97" height="2.67" fill="#85e045"/>
<rect x="396.73" y="166.31" width="14.97" height="3.02" fill="#646b1e"/>
<rect x="396.73" y="165.03" width="14.97" height="1.28" fill="#cc99f5"/>
<rect x="396.73" y="163.06" width="14.97" height="1.97" fill="#80fbfb"/>
<rect x="396.73" y="111.4" width="14.97" height="51.66" fill="#a0d2fd"/>
<rect x="396.73" y="101.88" width="14.97" height="9.52" fill="#f2ff3a"/>
<rect x="396.73" y="100.6" width="14.97" height="1.28" fill="#d42010"/>
<rect x="396.73" y="96.42" width="14.97" height="4.18" fill="#6e9eff"/>
<rect x="396.73" y="85.04" width="14.97" height="11.38" fill="#44ff0a"/>
<rect x="396.73" y="83.53" width="14.97" height="1.51" fill="#e8cf35"/>
<rect x="396.73" y="79.24" width="14.97" height="4.3" fill="#ee962a"/>
<rect x="396.73" y="55.9" width="14.97" height="23.34" fill="#999999"/>
<rect x="366.84" y="50" width="46" height="127.5" fill="none" stroke="#707070" stroke-width="1"/>
<line x1="366.34" y1="50" x2="413.34" y2="50" stroke="#585858" stroke-width="1.2"/>
<line x1="375.5" y1="177.5" x2="375.5" y2="180.5" stroke="#333333" stroke-width="1"/>
<text x="375.47" y="189.6" font-size="9.5" font-weight="bold" font-style="normal" text-anchor="middle" fill="#4d4d4d">1</text>
<line x1="389.5" y1="177.5" x2="389.5" y2="180.5" stroke="#333333" stroke-width="1"/>
<text x="389.84" y="189.6" font-size="9.5" font-weight="bold" font-style="normal" text-anchor="middle" fill="#4d4d4d">2</text>
<line x1="404.5" y1="177.5" x2="404.5" y2="180.5" stroke="#333333" stroke-width="1"/>
<text x="404.22" y="189.6" font-size="9.5" font-weight="bold" font-style="normal" text-anchor="middle" fill="#4d4d4d">3</text>
<rect x="414.84" y="12.4" width="46" height="18.5" fill="#d9d9d9" stroke="#707070" stroke-width="1"/>
<rect x="414.84" y="30.9" width="46" height="19.1" fill="#d9d9d9" stroke="#707070" stroke-width="1"/>
<text x="437.84" y="25.2" font-size="11" font-weight="bold" font-style="normal" text-anchor="middle" fill="#1a1a1a" stroke="#1a1a1a" stroke-width="0.25">Room4</text>
<text x="437.84" y="44.4" font-size="11" font-weight="bold" font-style="normal" text-anchor="middle" fill="#1a1a1a" stroke="#1a1a1a" stroke-width="0.25">New</text>
<rect x="414.84" y="50" width="46" height="127.5" fill="#ffffff"/>
<line x1="414.84" y1="157.49" x2="460.84" y2="157.49" stroke="#f1f1f1" stroke-width="0.5"/>
<line x1="414.84" y1="128.46" x2="460.84" y2="128.46" stroke="#f1f1f1" stroke-width="0.5"/>
<line x1="414.84" y1="99.44" x2="460.84" y2="99.44" stroke="#f1f1f1" stroke-width="0.5"/>
<line x1="414.84" y1="70.41" x2="460.84" y2="70.41" stroke="#f1f1f1" stroke-width="0.5"/>
<line x1="414.84" y1="172" x2="460.84" y2="172" stroke="#ebebeb" stroke-width="0.9"/>
<line x1="414.84" y1="142.97" x2="460.84" y2="142.97" stroke="#ebebeb" stroke-width="0.9"/>
<line x1="414.84" y1="113.95" x2="460.84" y2="113.95" stroke="#ebebeb" stroke-width="0.9"/>
<line x1="414.84" y1="84.93" x2="460.84" y2="84.93" stroke="#ebebeb" stroke-width="0.9"/>
<line x1="414.84" y1="55.9" x2="460.84" y2="55.9" stroke="#ebebeb" stroke-width="0.9"/>
<line x1="423.47" y1="50" x2="423.47" y2="177.5" stroke="#ebebeb" stroke-width="0.9"/>
<line x1="437.84" y1="50" x2="437.84" y2="177.5" stroke="#ebebeb" stroke-width="0.9"/>
<line x1="452.22" y1="50" x2="452.22" y2="177.5" stroke="#ebebeb" stroke-width="0.9"/>
<rect x="415.98" y="170.72" width="14.97" height="1.28" fill="#85e045"/>
<rect x="415.98" y="165.03" width="14.97" height="5.69" fill="#646b1e"/>
<rect x="415.98" y="163.52" width="14.97" height="1.51" fill="#a010f5"/>
<rect x="415.98" y="160.27" width="14.97" height="3.25" fill="#80fbfb"/>
<rect x="415.98" y="155.17" width="14.97" height="5.11" fill="#a0d2fd"/>
<rect x="415.98" y="152.73" width="14.97" height="2.44" fill="#2a00f5"/>
<rect x="415.98" y="150.75" width="14.97" height="1.97" fill="#45851e"/>
<rect x="415.98" y="149.82" width="14.97" height="0.93" fill="#d2ff30"/>
<rect x="415.98" y="146.11" width="14.97" height="3.72" fill="#f2ff3a"/>
<rect x="415.98" y="143.79" width="14.97" height="2.32" fill="#d42010"/>
<rect x="415.98" y="107.56" width="14.97" height="36.22" fill="#ff3aff"/>
<rect x="415.98" y="106.64" width="14.97" height="0.93" fill="#9c9a35"/>
<rect x="415.98" y="105.59" width="14.97" height="1.04" fill="#e52cf2"/>
<rect x="415.98" y="103.97" width="14.97" height="1.63" fill="#44ff0a"/>
<rect x="415.98" y="73.78" width="14.97" height="30.19" fill="#ee962a"/>
<rect x="415.98" y="55.9" width="14.97" height="17.88" fill="#999999"/>
<rect x="430.35" y="168.17" width="14.97" height="3.83" fill="#85e045"/>
<rect x="430.35" y="154.59" width="14.97" height="13.58" fill="#646b1e"/>
<rect x="430.35" y="153.66" width="14.97" height="0.93" fill="#cc99f5"/>
<rect x="430.35" y="150.75" width="14.97" height="2.9" fill="#80fbfb"/>
<rect x="430.35" y="149.82" width="14.97" height="0.93" fill="#a0d2fd"/>
<rect x="430.35" y="148.9" width="14.97" height="0.93" fill="#2a00f5"/>
<rect x="430.35" y="143.56" width="14.97" height="5.34" fill="#f2ff3a"/>
<rect x="430.35" y="142.28" width="14.97" height="1.28" fill="#d42010"/>
<rect x="430.35" y="136.59" width="14.97" height="5.69" fill="#ff3aff"/>
<rect x="430.35" y="133.69" width="14.97" height="2.9" fill="#9c9a35"/>
<rect x="430.35" y="131.48" width="14.97" height="2.21" fill="#6e9eff"/>
<rect x="430.35" y="120.1" width="14.97" height="11.38" fill="#44ff0a"/>
<rect x="430.35" y="118.94" width="14.97" height="1.16" fill="#e8cf35"/>
<rect x="430.35" y="109.07" width="14.97" height="9.87" fill="#ee962a"/>
<rect x="430.35" y="55.9" width="14.97" height="53.17" fill="#999999"/>
<rect x="444.73" y="169.68" width="14.97" height="2.32" fill="#85e045"/>
<rect x="444.73" y="166.89" width="14.97" height="2.79" fill="#646b1e"/>
<rect x="444.73" y="166.31" width="14.97" height="0.58" fill="#9c6b20"/>
<rect x="444.73" y="162.13" width="14.97" height="4.18" fill="#80fbfb"/>
<rect x="444.73" y="146.46" width="14.97" height="15.67" fill="#a0d2fd"/>
<rect x="444.73" y="136.59" width="14.97" height="9.87" fill="#f2ff3a"/>
<rect x="444.73" y="135.66" width="14.97" height="0.93" fill="#d42010"/>
<rect x="444.73" y="132.76" width="14.97" height="2.9" fill="#ff3aff"/>
<rect x="444.73" y="130.32" width="14.97" height="2.44" fill="#6e9eff"/>
<rect x="444.73" y="123.35" width="14.97" height="6.97" fill="#44ff0a"/>
<rect x="444.73" y="98.28" width="14.97" height="25.08" fill="#ee962a"/>
<rect x="444.73" y="55.9" width="14.97" height="42.38" fill="#999999"/>
<rect x="414.84" y="50" width="46" height="127.5" fill="none" stroke="#707070" stroke-width="1"/>
<line x1="414.34" y1="50" x2="461.34" y2="50" stroke="#585858" stroke-width="1.2"/>
<line x1="423.5" y1="177.5" x2="423.5" y2="180.5" stroke="#333333" stroke-width="1"/>
<text x="423.47" y="189.6" font-size="9.5" font-weight="bold" font-style="normal" text-anchor="middle" fill="#4d4d4d">4</text>
<line x1="437.5" y1="177.5" x2="437.5" y2="180.5" stroke="#333333" stroke-width="1"/>
<text x="437.84" y="189.6" font-size="9.5" font-weight="bold" font-style="normal" text-anchor="middle" fill="#4d4d4d">5</text>
<line x1="452.5" y1="177.5" x2="452.5" y2="180.5" stroke="#333333" stroke-width="1"/>
<text x="452.22" y="189.6" font-size="9.5" font-weight="bold" font-style="normal" text-anchor="middle" fill="#4d4d4d">6</text>
<rect x="471.62" y="12.4" width="46" height="18.5" fill="#d9d9d9" stroke="#707070" stroke-width="1"/>
<rect x="471.62" y="30.9" width="46" height="19.1" fill="#d9d9d9" stroke="#707070" stroke-width="1"/>
<text x="494.62" y="25.2" font-size="11" font-weight="bold" font-style="normal" text-anchor="middle" fill="#1a1a1a" stroke="#1a1a1a" stroke-width="0.25">Room5</text>
<text x="494.62" y="44.4" font-size="11" font-weight="bold" font-style="normal" text-anchor="middle" fill="#1a1a1a" stroke="#1a1a1a" stroke-width="0.25">Old</text>
<rect x="471.62" y="50" width="46" height="127.5" fill="#ffffff"/>
<line x1="471.62" y1="157.49" x2="517.62" y2="157.49" stroke="#f1f1f1" stroke-width="0.5"/>
<line x1="471.62" y1="128.46" x2="517.62" y2="128.46" stroke="#f1f1f1" stroke-width="0.5"/>
<line x1="471.62" y1="99.44" x2="517.62" y2="99.44" stroke="#f1f1f1" stroke-width="0.5"/>
<line x1="471.62" y1="70.41" x2="517.62" y2="70.41" stroke="#f1f1f1" stroke-width="0.5"/>
<line x1="471.62" y1="172" x2="517.62" y2="172" stroke="#ebebeb" stroke-width="0.9"/>
<line x1="471.62" y1="142.97" x2="517.62" y2="142.97" stroke="#ebebeb" stroke-width="0.9"/>
<line x1="471.62" y1="113.95" x2="517.62" y2="113.95" stroke="#ebebeb" stroke-width="0.9"/>
<line x1="471.62" y1="84.93" x2="517.62" y2="84.93" stroke="#ebebeb" stroke-width="0.9"/>
<line x1="471.62" y1="55.9" x2="517.62" y2="55.9" stroke="#ebebeb" stroke-width="0.9"/>
<line x1="480.25" y1="50" x2="480.25" y2="177.5" stroke="#ebebeb" stroke-width="0.9"/>
<line x1="494.62" y1="50" x2="494.62" y2="177.5" stroke="#ebebeb" stroke-width="0.9"/>
<line x1="509" y1="50" x2="509" y2="177.5" stroke="#ebebeb" stroke-width="0.9"/>
<rect x="472.76" y="170.72" width="14.97" height="1.28" fill="#85e045"/>
<rect x="472.76" y="168.17" width="14.97" height="2.55" fill="#646b1e"/>
<rect x="472.76" y="167.36" width="14.97" height="0.81" fill="#cc99f5"/>
<rect x="472.76" y="161.2" width="14.97" height="6.15" fill="#a010f5"/>
<rect x="472.76" y="158.42" width="14.97" height="2.79" fill="#d8fffb"/>
<rect x="472.76" y="155.51" width="14.97" height="2.9" fill="#80fbfb"/>
<rect x="472.76" y="153.66" width="14.97" height="1.86" fill="#a0d2fd"/>
<rect x="472.76" y="149.24" width="14.97" height="4.41" fill="#2a00f5"/>
<rect x="472.76" y="136.01" width="14.97" height="13.24" fill="#f2ff3a"/>
<rect x="472.76" y="121.03" width="14.97" height="14.98" fill="#ff3aff"/>
<rect x="472.76" y="118.94" width="14.97" height="2.09" fill="#9c9a35"/>
<rect x="472.76" y="118.01" width="14.97" height="0.93" fill="#44ff0a"/>
<rect x="472.76" y="83.18" width="14.97" height="34.83" fill="#ee962a"/>
<rect x="472.76" y="55.9" width="14.97" height="27.28" fill="#999999"/>
<rect x="487.13" y="168.17" width="14.97" height="3.83" fill="#85e045"/>
<rect x="487.13" y="161.2" width="14.97" height="6.97" fill="#646b1e"/>
<rect x="487.13" y="155.51" width="14.97" height="5.69" fill="#80fbfb"/>
<rect x="487.13" y="152.15" width="14.97" height="3.37" fill="#a0d2fd"/>
<rect x="487.13" y="92.12" width="14.97" height="60.02" fill="#f2ff3a"/>
<rect x="487.13" y="87.71" width="14.97" height="4.41" fill="#9c9a35"/>
<rect x="487.13" y="85.39" width="14.97" height="2.32" fill="#6e9eff"/>
<rect x="487.13" y="79.82" width="14.97" height="5.57" fill="#44ff0a"/>
<rect x="487.13" y="74.13" width="14.97" height="5.69" fill="#ee962a"/>
<rect x="487.13" y="55.9" width="14.97" height="18.23" fill="#999999"/>
<rect x="501.51" y="169.68" width="14.97" height="2.32" fill="#85e045"/>
<rect x="501.51" y="165.96" width="14.97" height="3.72" fill="#646b1e"/>
<rect x="501.51" y="164.45" width="14.97" height="1.51" fill="#a010f5"/>
<rect x="501.51" y="155.17" width="14.97" height="9.29" fill="#80fbfb"/>
<rect x="501.51" y="143.56" width="14.97" height="11.61" fill="#a0d2fd"/>
<rect x="501.51" y="134.15" width="14.97" height="9.4" fill="#2a00f5"/>
<rect x="501.51" y="130.32" width="14.97" height="3.83" fill="#d2ff30"/>
<rect x="501.51" y="107.8" width="14.97" height="22.52" fill="#f2ff3a"/>
<rect x="501.51" y="107.22" width="14.97" height="0.58" fill="#d42010"/>
<rect x="501.51" y="105.36" width="14.97" height="1.86" fill="#9c9a35"/>
<rect x="501.51" y="82.95" width="14.97" height="22.41" fill="#e52cf2"/>
<rect x="501.51" y="80.75" width="14.97" height="2.21" fill="#6e9eff"/>
<rect x="501.51" y="75.06" width="14.97" height="5.69" fill="#44ff0a"/>
<rect x="501.51" y="71.23" width="14.97" height="3.83" fill="#ee962a"/>
<rect x="501.51" y="55.9" width="14.97" height="15.33" fill="#999999"/>
<rect x="471.62" y="50" width="46" height="127.5" fill="none" stroke="#707070" stroke-width="1"/>
<line x1="471.12" y1="50" x2="518.12" y2="50" stroke="#585858" stroke-width="1.2"/>
<line x1="480.5" y1="177.5" x2="480.5" y2="180.5" stroke="#333333" stroke-width="1"/>
<text x="480.25" y="189.6" font-size="9.5" font-weight="bold" font-style="normal" text-anchor="middle" fill="#4d4d4d">1</text>
<line x1="494.5" y1="177.5" x2="494.5" y2="180.5" stroke="#333333" stroke-width="1"/>
<text x="494.62" y="189.6" font-size="9.5" font-weight="bold" font-style="normal" text-anchor="middle" fill="#4d4d4d">2</text>
<line x1="508.5" y1="177.5" x2="508.5" y2="180.5" stroke="#333333" stroke-width="1"/>
<text x="509" y="189.6" font-size="9.5" font-weight="bold" font-style="normal" text-anchor="middle" fill="#4d4d4d">3</text>
<rect x="519.62" y="12.4" width="46" height="18.5" fill="#d9d9d9" stroke="#707070" stroke-width="1"/>
<rect x="519.62" y="30.9" width="46" height="19.1" fill="#d9d9d9" stroke="#707070" stroke-width="1"/>
<text x="542.62" y="25.2" font-size="11" font-weight="bold" font-style="normal" text-anchor="middle" fill="#1a1a1a" stroke="#1a1a1a" stroke-width="0.25">Room5</text>
<text x="542.62" y="44.4" font-size="11" font-weight="bold" font-style="normal" text-anchor="middle" fill="#1a1a1a" stroke="#1a1a1a" stroke-width="0.25">New</text>
<rect x="519.62" y="50" width="46" height="127.5" fill="#ffffff"/>
<line x1="519.62" y1="157.49" x2="565.62" y2="157.49" stroke="#f1f1f1" stroke-width="0.5"/>
<line x1="519.62" y1="128.46" x2="565.62" y2="128.46" stroke="#f1f1f1" stroke-width="0.5"/>
<line x1="519.62" y1="99.44" x2="565.62" y2="99.44" stroke="#f1f1f1" stroke-width="0.5"/>
<line x1="519.62" y1="70.41" x2="565.62" y2="70.41" stroke="#f1f1f1" stroke-width="0.5"/>
<line x1="519.62" y1="172" x2="565.62" y2="172" stroke="#ebebeb" stroke-width="0.9"/>
<line x1="519.62" y1="142.97" x2="565.62" y2="142.97" stroke="#ebebeb" stroke-width="0.9"/>
<line x1="519.62" y1="113.95" x2="565.62" y2="113.95" stroke="#ebebeb" stroke-width="0.9"/>
<line x1="519.62" y1="84.93" x2="565.62" y2="84.93" stroke="#ebebeb" stroke-width="0.9"/>
<line x1="519.62" y1="55.9" x2="565.62" y2="55.9" stroke="#ebebeb" stroke-width="0.9"/>
<line x1="528.25" y1="50" x2="528.25" y2="177.5" stroke="#ebebeb" stroke-width="0.9"/>
<line x1="542.62" y1="50" x2="542.62" y2="177.5" stroke="#ebebeb" stroke-width="0.9"/>
<line x1="557" y1="50" x2="557" y2="177.5" stroke="#ebebeb" stroke-width="0.9"/>
<rect x="520.76" y="170.72" width="14.97" height="1.28" fill="#85e045"/>
<rect x="520.76" y="168.17" width="14.97" height="2.55" fill="#9c6b20"/>
<rect x="520.76" y="163.99" width="14.97" height="4.18" fill="#d8fffb"/>
<rect x="520.76" y="149.82" width="14.97" height="14.16" fill="#80fbfb"/>
<rect x="520.76" y="89.8" width="14.97" height="60.02" fill="#a0d2fd"/>
<rect x="520.76" y="84.11" width="14.97" height="5.69" fill="#f2ff3a"/>
<rect x="520.76" y="81.67" width="14.97" height="2.44" fill="#d42010"/>
<rect x="520.76" y="80.4" width="14.97" height="1.28" fill="#9c9a35"/>
<rect x="520.76" y="76.91" width="14.97" height="3.48" fill="#e52cf2"/>
<rect x="520.76" y="73.55" width="14.97" height="3.37" fill="#44ff0a"/>
<rect x="520.76" y="70.3" width="14.97" height="3.25" fill="#ee962a"/>
<rect x="520.76" y="55.9" width="14.97" height="14.4" fill="#999999"/>
<rect x="535.13" y="170.72" width="14.97" height="1.28" fill="#85e045"/>
<rect x="535.13" y="168.75" width="14.97" height="1.97" fill="#9c6b20"/>
<rect x="535.13" y="158.76" width="14.97" height="9.98" fill="#a010f5"/>
<rect x="535.13" y="157.37" width="14.97" height="1.39" fill="#d8fffb"/>
<rect x="535.13" y="154.24" width="14.97" height="3.13" fill="#80fbfb"/>
<rect x="535.13" y="143.21" width="14.97" height="11.03" fill="#2a00f5"/>
<rect x="535.13" y="142.28" width="14.97" height="0.93" fill="#45851e"/>
<rect x="535.13" y="136.59" width="14.97" height="5.69" fill="#d2ff30"/>
<rect x="535.13" y="133.69" width="14.97" height="2.9" fill="#d42010"/>
<rect x="535.13" y="104.43" width="14.97" height="29.26" fill="#e52cf2"/>
<rect x="535.13" y="103.04" width="14.97" height="1.39" fill="#6e9eff"/>
<rect x="535.13" y="101.53" width="14.97" height="1.51" fill="#44ff0a"/>
<rect x="535.13" y="55.9" width="14.97" height="45.63" fill="#999999"/>
<rect x="549.51" y="170.84" width="14.97" height="1.16" fill="#85e045"/>
<rect x="549.51" y="166.31" width="14.97" height="4.53" fill="#a010f5"/>
<rect x="549.51" y="163.06" width="14.97" height="3.25" fill="#80fbfb"/>
<rect x="549.51" y="150.17" width="14.97" height="12.89" fill="#a0d2fd"/>
<rect x="549.51" y="147.39" width="14.97" height="2.79" fill="#2a00f5"/>
<rect x="549.51" y="139.38" width="14.97" height="8.01" fill="#d2ff30"/>
<rect x="549.51" y="133.69" width="14.97" height="5.69" fill="#d42010"/>
<rect x="549.51" y="82.25" width="14.97" height="51.43" fill="#e52cf2"/>
<rect x="549.51" y="81.33" width="14.97" height="0.93" fill="#44ff0a"/>
<rect x="549.51" y="75.64" width="14.97" height="5.69" fill="#ee962a"/>
<rect x="549.51" y="55.9" width="14.97" height="19.74" fill="#999999"/>
<rect x="519.62" y="50" width="46" height="127.5" fill="none" stroke="#707070" stroke-width="1"/>
<line x1="519.12" y1="50" x2="566.12" y2="50" stroke="#585858" stroke-width="1.2"/>
<line x1="528.5" y1="177.5" x2="528.5" y2="180.5" stroke="#333333" stroke-width="1"/>
<text x="528.25" y="189.6" font-size="9.5" font-weight="bold" font-style="normal" text-anchor="middle" fill="#4d4d4d">4</text>
<line x1="542.5" y1="177.5" x2="542.5" y2="180.5" stroke="#333333" stroke-width="1"/>
<text x="542.62" y="189.6" font-size="9.5" font-weight="bold" font-style="normal" text-anchor="middle" fill="#4d4d4d">5</text>
<line x1="556.5" y1="177.5" x2="556.5" y2="180.5" stroke="#333333" stroke-width="1"/>
<text x="557" y="189.6" font-size="9.5" font-weight="bold" font-style="normal" text-anchor="middle" fill="#4d4d4d">6</text>
<rect x="576.4" y="12.4" width="46" height="18.5" fill="#d9d9d9" stroke="#707070" stroke-width="1"/>
<rect x="576.4" y="30.9" width="46" height="19.1" fill="#d9d9d9" stroke="#707070" stroke-width="1"/>
<text x="599.4" y="25.2" font-size="11" font-weight="bold" font-style="normal" text-anchor="middle" fill="#1a1a1a" stroke="#1a1a1a" stroke-width="0.25">Room6</text>
<text x="599.4" y="44.4" font-size="11" font-weight="bold" font-style="normal" text-anchor="middle" fill="#1a1a1a" stroke="#1a1a1a" stroke-width="0.25">Old</text>
<rect x="576.4" y="50" width="46" height="127.5" fill="#ffffff"/>
<line x1="576.4" y1="157.49" x2="622.4" y2="157.49" stroke="#f1f1f1" stroke-width="0.5"/>
<line x1="576.4" y1="128.46" x2="622.4" y2="128.46" stroke="#f1f1f1" stroke-width="0.5"/>
<line x1="576.4" y1="99.44" x2="622.4" y2="99.44" stroke="#f1f1f1" stroke-width="0.5"/>
<line x1="576.4" y1="70.41" x2="622.4" y2="70.41" stroke="#f1f1f1" stroke-width="0.5"/>
<line x1="576.4" y1="172" x2="622.4" y2="172" stroke="#ebebeb" stroke-width="0.9"/>
<line x1="576.4" y1="142.97" x2="622.4" y2="142.97" stroke="#ebebeb" stroke-width="0.9"/>
<line x1="576.4" y1="113.95" x2="622.4" y2="113.95" stroke="#ebebeb" stroke-width="0.9"/>
<line x1="576.4" y1="84.93" x2="622.4" y2="84.93" stroke="#ebebeb" stroke-width="0.9"/>
<line x1="576.4" y1="55.9" x2="622.4" y2="55.9" stroke="#ebebeb" stroke-width="0.9"/>
<line x1="585.02" y1="50" x2="585.02" y2="177.5" stroke="#ebebeb" stroke-width="0.9"/>
<line x1="599.4" y1="50" x2="599.4" y2="177.5" stroke="#ebebeb" stroke-width="0.9"/>
<line x1="613.77" y1="50" x2="613.77" y2="177.5" stroke="#ebebeb" stroke-width="0.9"/>
<rect x="577.54" y="167.82" width="14.97" height="4.18" fill="#85e045"/>
<rect x="577.54" y="157.37" width="14.97" height="10.45" fill="#646b1e"/>
<rect x="577.54" y="156.44" width="14.97" height="0.93" fill="#80fbfb"/>
<rect x="577.54" y="151.33" width="14.97" height="5.11" fill="#a0d2fd"/>
<rect x="577.54" y="148.32" width="14.97" height="3.02" fill="#d2ff30"/>
<rect x="577.54" y="103.97" width="14.97" height="44.35" fill="#f2ff3a"/>
<rect x="577.54" y="103.04" width="14.97" height="0.93" fill="#d42010"/>
<rect x="577.54" y="100.25" width="14.97" height="2.79" fill="#9c9a35"/>
<rect x="577.54" y="98.86" width="14.97" height="1.39" fill="#6e9eff"/>
<rect x="577.54" y="94.91" width="14.97" height="3.95" fill="#44ff0a"/>
<rect x="577.54" y="91.08" width="14.97" height="3.83" fill="#ee962a"/>
<rect x="577.54" y="55.9" width="14.97" height="35.18" fill="#999999"/>
<rect x="591.91" y="166.31" width="14.97" height="5.69" fill="#85e045"/>
<rect x="591.91" y="144.14" width="14.97" height="22.18" fill="#646b1e"/>
<rect x="591.91" y="142.28" width="14.97" height="1.86" fill="#80fbfb"/>
<rect x="591.91" y="119.52" width="14.97" height="22.76" fill="#a0d2fd"/>
<rect x="591.91" y="101.18" width="14.97" height="18.34" fill="#f2ff3a"/>
<rect x="591.91" y="100.25" width="14.97" height="0.93" fill="#d42010"/>
<rect x="591.91" y="96.42" width="14.97" height="3.83" fill="#9c9a35"/>
<rect x="591.91" y="94.33" width="14.97" height="2.09" fill="#6e9eff"/>
<rect x="591.91" y="87.01" width="14.97" height="7.31" fill="#44ff0a"/>
<rect x="591.91" y="85.39" width="14.97" height="1.63" fill="#e8cf35"/>
<rect x="591.91" y="82.95" width="14.97" height="2.44" fill="#ee962a"/>
<rect x="591.91" y="55.9" width="14.97" height="27.05" fill="#999999"/>
<rect x="606.29" y="166.89" width="14.97" height="5.11" fill="#85e045"/>
<rect x="606.29" y="147.39" width="14.97" height="19.5" fill="#646b1e"/>
<rect x="606.29" y="146.57" width="14.97" height="0.81" fill="#cc99f5"/>
<rect x="606.29" y="143.21" width="14.97" height="3.37" fill="#80fbfb"/>
<rect x="606.29" y="140.77" width="14.97" height="2.44" fill="#a0d2fd"/>
<rect x="606.29" y="103.97" width="14.97" height="36.8" fill="#f2ff3a"/>
<rect x="606.29" y="102.92" width="14.97" height="1.04" fill="#d42010"/>
<rect x="606.29" y="96.77" width="14.97" height="6.15" fill="#9c9a35"/>
<rect x="606.29" y="95.84" width="14.97" height="0.93" fill="#6e9eff"/>
<rect x="606.29" y="93.63" width="14.97" height="2.21" fill="#44ff0a"/>
<rect x="606.29" y="92.12" width="14.97" height="1.51" fill="#ee962a"/>
<rect x="606.29" y="55.9" width="14.97" height="36.22" fill="#999999"/>
<rect x="576.4" y="50" width="46" height="127.5" fill="none" stroke="#707070" stroke-width="1"/>
<line x1="575.9" y1="50" x2="622.9" y2="50" stroke="#585858" stroke-width="1.2"/>
<line x1="585.5" y1="177.5" x2="585.5" y2="180.5" stroke="#333333" stroke-width="1"/>
<text x="585.02" y="189.6" font-size="9.5" font-weight="bold" font-style="normal" text-anchor="middle" fill="#4d4d4d">1</text>
<line x1="599.5" y1="177.5" x2="599.5" y2="180.5" stroke="#333333" stroke-width="1"/>
<text x="599.4" y="189.6" font-size="9.5" font-weight="bold" font-style="normal" text-anchor="middle" fill="#4d4d4d">2</text>
<line x1="613.5" y1="177.5" x2="613.5" y2="180.5" stroke="#333333" stroke-width="1"/>
<text x="613.77" y="189.6" font-size="9.5" font-weight="bold" font-style="normal" text-anchor="middle" fill="#4d4d4d">3</text>
<rect x="624.4" y="12.4" width="46" height="18.5" fill="#d9d9d9" stroke="#707070" stroke-width="1"/>
<rect x="624.4" y="30.9" width="46" height="19.1" fill="#d9d9d9" stroke="#707070" stroke-width="1"/>
<text x="647.4" y="25.2" font-size="11" font-weight="bold" font-style="normal" text-anchor="middle" fill="#1a1a1a" stroke="#1a1a1a" stroke-width="0.25">Room6</text>
<text x="647.4" y="44.4" font-size="11" font-weight="bold" font-style="normal" text-anchor="middle" fill="#1a1a1a" stroke="#1a1a1a" stroke-width="0.25">New</text>
<rect x="624.4" y="50" width="46" height="127.5" fill="#ffffff"/>
<line x1="624.4" y1="157.49" x2="670.4" y2="157.49" stroke="#f1f1f1" stroke-width="0.5"/>
<line x1="624.4" y1="128.46" x2="670.4" y2="128.46" stroke="#f1f1f1" stroke-width="0.5"/>
<line x1="624.4" y1="99.44" x2="670.4" y2="99.44" stroke="#f1f1f1" stroke-width="0.5"/>
<line x1="624.4" y1="70.41" x2="670.4" y2="70.41" stroke="#f1f1f1" stroke-width="0.5"/>
<line x1="624.4" y1="172" x2="670.4" y2="172" stroke="#ebebeb" stroke-width="0.9"/>
<line x1="624.4" y1="142.97" x2="670.4" y2="142.97" stroke="#ebebeb" stroke-width="0.9"/>
<line x1="624.4" y1="113.95" x2="670.4" y2="113.95" stroke="#ebebeb" stroke-width="0.9"/>
<line x1="624.4" y1="84.93" x2="670.4" y2="84.93" stroke="#ebebeb" stroke-width="0.9"/>
<line x1="624.4" y1="55.9" x2="670.4" y2="55.9" stroke="#ebebeb" stroke-width="0.9"/>
<line x1="633.02" y1="50" x2="633.02" y2="177.5" stroke="#ebebeb" stroke-width="0.9"/>
<line x1="647.4" y1="50" x2="647.4" y2="177.5" stroke="#ebebeb" stroke-width="0.9"/>
<line x1="661.77" y1="50" x2="661.77" y2="177.5" stroke="#ebebeb" stroke-width="0.9"/>
<rect x="625.54" y="167.82" width="14.97" height="4.18" fill="#85e045"/>
<rect x="625.54" y="147.04" width="14.97" height="20.78" fill="#646b1e"/>
<rect x="625.54" y="145.99" width="14.97" height="1.04" fill="#cc99f5"/>
<rect x="625.54" y="142.28" width="14.97" height="3.72" fill="#80fbfb"/>
<rect x="625.54" y="140.89" width="14.97" height="1.39" fill="#a0d2fd"/>
<rect x="625.54" y="105.01" width="14.97" height="35.87" fill="#f2ff3a"/>
<rect x="625.54" y="103.5" width="14.97" height="1.51" fill="#d42010"/>
<rect x="625.54" y="97.35" width="14.97" height="6.15" fill="#9c9a35"/>
<rect x="625.54" y="95.84" width="14.97" height="1.51" fill="#6e9eff"/>
<rect x="625.54" y="94.33" width="14.97" height="1.51" fill="#44ff0a"/>
<rect x="625.54" y="93.4" width="14.97" height="0.93" fill="#ee962a"/>
<rect x="625.54" y="55.9" width="14.97" height="37.5" fill="#999999"/>
<rect x="639.91" y="163.64" width="14.97" height="8.36" fill="#85e045"/>
<rect x="639.91" y="145.53" width="14.97" height="18.11" fill="#646b1e"/>
<rect x="639.91" y="144.14" width="14.97" height="1.39" fill="#cc99f5"/>
<rect x="639.91" y="138.91" width="14.97" height="5.22" fill="#80fbfb"/>
<rect x="639.91" y="134.27" width="14.97" height="4.64" fill="#a0d2fd"/>
<rect x="639.91" y="103.97" width="14.97" height="30.3" fill="#f2ff3a"/>
<rect x="639.91" y="102.46" width="14.97" height="1.51" fill="#d42010"/>
<rect x="639.91" y="96.77" width="14.97" height="5.69" fill="#9c9a35"/>
<rect x="639.91" y="95.84" width="14.97" height="0.93" fill="#6e9eff"/>
<rect x="639.91" y="94.33" width="14.97" height="1.51" fill="#44ff0a"/>
<rect x="639.91" y="93.4" width="14.97" height="0.93" fill="#ee962a"/>
<rect x="639.91" y="55.9" width="14.97" height="37.5" fill="#999999"/>
<rect x="654.29" y="170.14" width="14.97" height="1.86" fill="#85e045"/>
<rect x="654.29" y="166.31" width="14.97" height="3.83" fill="#646b1e"/>
<rect x="654.29" y="165.03" width="14.97" height="1.28" fill="#cc99f5"/>
<rect x="654.29" y="160.62" width="14.97" height="4.41" fill="#a010f5"/>
<rect x="654.29" y="158.76" width="14.97" height="1.86" fill="#d8fffb"/>
<rect x="654.29" y="155.51" width="14.97" height="3.25" fill="#80fbfb"/>
<rect x="654.29" y="142.28" width="14.97" height="13.24" fill="#2a00f5"/>
<rect x="654.29" y="137.87" width="14.97" height="4.41" fill="#45851e"/>
<rect x="654.29" y="126.14" width="14.97" height="11.73" fill="#d2ff30"/>
<rect x="654.29" y="123.35" width="14.97" height="2.79" fill="#f2ff3a"/>
<rect x="654.29" y="120.45" width="14.97" height="2.9" fill="#d42010"/>
<rect x="654.29" y="118.94" width="14.97" height="1.51" fill="#ff3aff"/>
<rect x="654.29" y="117.67" width="14.97" height="1.28" fill="#9c9a35"/>
<rect x="654.29" y="115.69" width="14.97" height="1.97" fill="#e52cf2"/>
<rect x="654.29" y="114.76" width="14.97" height="0.93" fill="#6e9eff"/>
<rect x="654.29" y="113.25" width="14.97" height="1.51" fill="#44ff0a"/>
<rect x="654.29" y="112.32" width="14.97" height="0.93" fill="#ee962a"/>
<rect x="654.29" y="55.9" width="14.97" height="56.42" fill="#999999"/>
<rect x="624.4" y="50" width="46" height="127.5" fill="none" stroke="#707070" stroke-width="1"/>
<line x1="623.9" y1="50" x2="670.9" y2="50" stroke="#585858" stroke-width="1.2"/>
<line x1="633.5" y1="177.5" x2="633.5" y2="180.5" stroke="#333333" stroke-width="1"/>
<text x="633.02" y="189.6" font-size="9.5" font-weight="bold" font-style="normal" text-anchor="middle" fill="#4d4d4d">4</text>
<line x1="647.5" y1="177.5" x2="647.5" y2="180.5" stroke="#333333" stroke-width="1"/>
<text x="647.4" y="189.6" font-size="9.5" font-weight="bold" font-style="normal" text-anchor="middle" fill="#4d4d4d">5</text>
<line x1="661.5" y1="177.5" x2="661.5" y2="180.5" stroke="#333333" stroke-width="1"/>
<text x="661.77" y="189.6" font-size="9.5" font-weight="bold" font-style="normal" text-anchor="middle" fill="#4d4d4d">6</text>
<line x1="49.4" y1="172.5" x2="52.5" y2="172.5" stroke="#333333" stroke-width="1"/>
<text x="47.6" y="175.45" font-size="9.7" font-weight="bold" font-style="normal" text-anchor="end" fill="#4d4d4d">0.00</text>
<line x1="49.4" y1="142.5" x2="52.5" y2="142.5" stroke="#333333" stroke-width="1"/>
<text x="47.6" y="146.42" font-size="9.7" font-weight="bold" font-style="normal" text-anchor="end" fill="#4d4d4d">0.25</text>
<line x1="49.4" y1="113.5" x2="52.5" y2="113.5" stroke="#333333" stroke-width="1"/>
<text x="47.6" y="117.4" font-size="9.7" font-weight="bold" font-style="normal" text-anchor="end" fill="#4d4d4d">0.50</text>
<line x1="49.4" y1="84.5" x2="52.5" y2="84.5" stroke="#333333" stroke-width="1"/>
<text x="47.6" y="88.38" font-size="9.7" font-weight="bold" font-style="normal" text-anchor="end" fill="#4d4d4d">0.75</text>
<line x1="49.4" y1="55.5" x2="52.5" y2="55.5" stroke="#333333" stroke-width="1"/>
<text x="47.6" y="59.35" font-size="9.7" font-weight="bold" font-style="normal" text-anchor="end" fill="#4d4d4d">1.00</text>
<text x="11.3" y="114" font-size="11.4" font-weight="bold" font-style="normal" text-anchor="middle" fill="#000" transform="rotate(-90 11.3 114)" stroke="#000" stroke-width="0.25">Relative Abundance</text>
<text x="47.2" y="204.86" font-size="7.7" font-weight="bold" font-style="italic" text-anchor="end" fill="#4d4d4d">Serratia</text>
<text x="47.2" y="212.96" font-size="7.7" font-weight="bold" font-style="italic" text-anchor="end" fill="#4d4d4d">Raoultella</text>
<text x="47.2" y="221.05" font-size="7.7" font-weight="bold" font-style="italic" text-anchor="end" fill="#4d4d4d">Pantoea</text>
<text x="47.2" y="229.15" font-size="7.7" font-weight="bold" font-style="italic" text-anchor="end" fill="#4d4d4d">Kluyvera</text>
<text x="47.2" y="237.25" font-size="7.7" font-weight="bold" font-style="italic" text-anchor="end" fill="#4d4d4d">Klebsiella</text>
<text x="47.2" y="245.34" font-size="7.7" font-weight="bold" font-style="italic" text-anchor="end" fill="#4d4d4d">Enterobacter</text>
<text x="47.2" y="253.44" font-size="7.7" font-weight="bold" font-style="italic" text-anchor="end" fill="#4d4d4d">Citrobacter</text>
<rect x="52.5" y="197.2" width="46" height="58.3" fill="#ffffff" stroke="#707070" stroke-width="1"/>
<rect x="100.5" y="197.2" width="46" height="58.3" fill="#ffffff" stroke="#707070" stroke-width="1"/>
<circle cx="137.88" cy="226.35" r="3.9" fill="#d2ff30"/>
<circle cx="137.88" cy="234.45" r="3.9" fill="#45851e"/>
<circle cx="137.88" cy="242.54" r="3.9" fill="#2a00f5"/>
<rect x="157.28" y="197.2" width="46" height="58.3" fill="#ffffff" stroke="#707070" stroke-width="1"/>
<circle cx="180.28" cy="202.06" r="3.9" fill="#e52cf2"/>
<circle cx="180.28" cy="210.16" r="3.9" fill="#ff3aff"/>
<circle cx="180.28" cy="234.45" r="3.9" fill="#45851e"/>
<circle cx="180.28" cy="242.54" r="3.9" fill="#2a00f5"/>
<circle cx="180.28" cy="250.64" r="3.9" fill="#a010f5"/>
<rect x="205.28" y="197.2" width="46" height="58.3" fill="#ffffff" stroke="#707070" stroke-width="1"/>
<circle cx="213.91" cy="210.16" r="3.9" fill="#ff3aff"/>
<circle cx="228.28" cy="210.16" r="3.9" fill="#ff3aff"/>
<circle cx="242.66" cy="210.16" r="3.9" fill="#ff3aff"/>
<circle cx="242.66" cy="218.25" r="3.9" fill="#f2c6cb"/>
<circle cx="213.91" cy="226.35" r="3.9" fill="#d2ff30"/>
<circle cx="242.66" cy="226.35" r="3.9" fill="#d2ff30"/>
<circle cx="213.91" cy="234.45" r="3.9" fill="#45851e"/>
<circle cx="242.66" cy="234.45" r="3.9" fill="#45851e"/>
<circle cx="213.91" cy="242.54" r="3.9" fill="#2a00f5"/>
<circle cx="242.66" cy="242.54" r="3.9" fill="#2a00f5"/>
<rect x="262.06" y="197.2" width="46" height="58.3" fill="#ffffff" stroke="#707070" stroke-width="1"/>
<rect x="310.06" y="197.2" width="46" height="58.3" fill="#ffffff" stroke="#707070" stroke-width="1"/>
<circle cx="318.69" cy="202.06" r="3.9" fill="#e52cf2"/>
<circle cx="318.69" cy="234.45" r="3.9" fill="#45851e"/>
<circle cx="333.06" cy="234.45" r="3.9" fill="#45851e"/>
<circle cx="347.44" cy="234.45" r="3.9" fill="#45851e"/>
<circle cx="318.69" cy="250.64" r="3.9" fill="#a010f5"/>
<rect x="366.84" y="197.2" width="46" height="58.3" fill="#ffffff" stroke="#707070" stroke-width="1"/>
<circle cx="375.47" cy="210.16" r="3.9" fill="#ff3aff"/>
<rect x="414.84" y="197.2" width="46" height="58.3" fill="#ffffff" stroke="#707070" stroke-width="1"/>
<circle cx="423.47" cy="210.16" r="3.9" fill="#ff3aff"/>
<circle cx="437.84" cy="210.16" r="3.9" fill="#ff3aff"/>
<circle cx="452.22" cy="210.16" r="3.9" fill="#ff3aff"/>
<rect x="471.62" y="197.2" width="46" height="58.3" fill="#ffffff" stroke="#707070" stroke-width="1"/>
<circle cx="494.62" cy="202.06" r="3.9" fill="#e52cf2"/>
<circle cx="480.25" cy="218.25" r="3.9" fill="#f2c6cb"/>
<circle cx="509" cy="218.25" r="3.9" fill="#f2c6cb"/>
<circle cx="480.25" cy="226.35" r="3.9" fill="#d2ff30"/>
<circle cx="494.62" cy="226.35" r="3.9" fill="#d2ff30"/>
<circle cx="509" cy="226.35" r="3.9" fill="#d2ff30"/>
<rect x="519.62" y="197.2" width="46" height="58.3" fill="#ffffff" stroke="#707070" stroke-width="1"/>
<circle cx="542.62" cy="202.06" r="3.9" fill="#e52cf2"/>
<circle cx="528.25" cy="218.25" r="3.9" fill="#f2c6cb"/>
<circle cx="542.62" cy="218.25" r="3.9" fill="#f2c6cb"/>
<circle cx="557" cy="218.25" r="3.9" fill="#f2c6cb"/>
<circle cx="528.25" cy="226.35" r="3.9" fill="#d2ff30"/>
<rect x="576.4" y="197.2" width="46" height="58.3" fill="#ffffff" stroke="#707070" stroke-width="1"/>
<circle cx="585.02" cy="226.35" r="3.9" fill="#d2ff30"/>
<circle cx="613.77" cy="226.35" r="3.9" fill="#d2ff30"/>
<rect x="624.4" y="197.2" width="46" height="58.3" fill="#ffffff" stroke="#707070" stroke-width="1"/>
<circle cx="633.02" cy="202.06" r="3.9" fill="#e52cf2"/>
<circle cx="633.02" cy="218.25" r="3.9" fill="#f2c6cb"/>
<circle cx="647.4" cy="218.25" r="3.9" fill="#f2c6cb"/>
<circle cx="661.77" cy="218.25" r="3.9" fill="#f2c6cb"/>
<circle cx="633.02" cy="226.35" r="3.9" fill="#d2ff30"/>
<circle cx="647.4" cy="226.35" r="3.9" fill="#d2ff30"/>
<circle cx="661.77" cy="226.35" r="3.9" fill="#d2ff30"/>
<text x="361.5" y="269.3" font-size="11.55" font-weight="bold" font-style="normal" text-anchor="middle" fill="#000" stroke="#000" stroke-width="0.25">Sampling Timepoint</text>
<rect x="30.2" y="278.2" width="15.3" height="14.8" fill="#c8c99a"/>
<text x="51.8" y="289" font-size="9.5" font-weight="normal" font-style="italic" text-anchor="start" fill="#1a1a1a">Aeromonas</text>
<rect x="30.2" y="294.8" width="15.3" height="14.8" fill="#85e045"/>
<text x="51.8" y="305.6" font-size="9.5" font-weight="normal" font-style="italic" text-anchor="start" fill="#1a1a1a">Bosea</text>
<rect x="30.2" y="311.4" width="15.3" height="14.8" fill="#646b1e"/>
<text x="51.8" y="322.2" font-size="9.5" font-weight="normal" font-style="italic" text-anchor="start" fill="#1a1a1a">Bradyrhizobium</text>
<rect x="30.2" y="328" width="15.3" height="14.8" fill="#9c6b20"/>
<text x="51.8" y="338.8" font-size="9.5" font-weight="normal" font-style="italic" text-anchor="start" fill="#1a1a1a">Burkholderia</text>
<rect x="124.1" y="278.2" width="15.3" height="14.8" fill="#cc99f5"/>
<text x="145.7" y="289" font-size="9.5" font-weight="normal" font-style="italic" text-anchor="start" fill="#1a1a1a">Chryseobacterium</text>
<rect x="124.1" y="294.8" width="15.3" height="14.8" fill="#a010f5"/>
<text x="145.7" y="305.6" font-size="9.5" font-weight="normal" font-style="italic" text-anchor="start" fill="#1a1a1a">Citrobacter</text>
<rect x="124.1" y="311.4" width="15.3" height="14.8" fill="#d8fffb"/>
<text x="145.7" y="322.2" font-size="9.5" font-weight="normal" font-style="italic" text-anchor="start" fill="#1a1a1a">Cupriavidus</text>
<rect x="124.1" y="328" width="15.3" height="14.8" fill="#80fbfb"/>
<text x="145.7" y="338.8" font-size="9.5" font-weight="normal" font-style="italic" text-anchor="start" fill="#1a1a1a">Delftia</text>
<rect x="229" y="278.2" width="15.3" height="14.8" fill="#a0d2fd"/>
<text x="250.6" y="289" font-size="9.5" font-weight="normal" font-style="italic" text-anchor="start" fill="#1a1a1a">Elizabethkingia</text>
<rect x="229" y="294.8" width="15.3" height="14.8" fill="#2a00f5"/>
<text x="250.6" y="305.6" font-size="9.5" font-weight="normal" font-style="italic" text-anchor="start" fill="#1a1a1a">Enterobacter</text>
<rect x="229" y="311.4" width="15.3" height="14.8" fill="#45851e"/>
<text x="250.6" y="322.2" font-size="9.5" font-weight="normal" font-style="italic" text-anchor="start" fill="#1a1a1a">Klebsiella</text>
<rect x="229" y="328" width="15.3" height="14.8" fill="#d2ff30"/>
<text x="250.6" y="338.8" font-size="9.5" font-weight="normal" font-style="italic" text-anchor="start" fill="#1a1a1a">Kluyvera</text>
<rect x="320.2" y="278.2" width="15.3" height="14.8" fill="#f2ff3a"/>
<text x="341.8" y="289" font-size="9.5" font-weight="normal" font-style="italic" text-anchor="start" fill="#1a1a1a">Methylobacterium</text>
<rect x="320.2" y="294.8" width="15.3" height="14.8" fill="#f2c6cb"/>
<text x="341.8" y="305.6" font-size="9.5" font-weight="normal" font-style="italic" text-anchor="start" fill="#1a1a1a">Pantoea</text>
<rect x="320.2" y="311.4" width="15.3" height="14.8" fill="#d42010"/>
<text x="341.8" y="322.2" font-size="9.5" font-weight="normal" font-style="italic" text-anchor="start" fill="#1a1a1a">Pseudomonas</text>
<rect x="320.2" y="328" width="15.3" height="14.8" fill="#ff3aff"/>
<text x="341.8" y="338.8" font-size="9.5" font-weight="normal" font-style="italic" text-anchor="start" fill="#1a1a1a">Raoultella</text>
<rect x="423" y="278.2" width="15.3" height="14.8" fill="#9c9a35"/>
<text x="444.6" y="289" font-size="9.5" font-weight="normal" font-style="italic" text-anchor="start" fill="#1a1a1a">Rhodopseudomonas</text>
<rect x="423" y="294.8" width="15.3" height="14.8" fill="#e52cf2"/>
<text x="444.6" y="305.6" font-size="9.5" font-weight="normal" font-style="italic" text-anchor="start" fill="#1a1a1a">Serratia</text>
<rect x="423" y="311.4" width="15.3" height="14.8" fill="#6e9eff"/>
<text x="444.6" y="322.2" font-size="9.5" font-weight="normal" font-style="italic" text-anchor="start" fill="#1a1a1a">Sphingobium</text>
<rect x="423" y="328" width="15.3" height="14.8" fill="#44ff0a"/>
<text x="444.6" y="338.8" font-size="9.5" font-weight="normal" font-style="italic" text-anchor="start" fill="#1a1a1a">Sphingomonas</text>
<rect x="538.8" y="278.2" width="15.3" height="14.8" fill="#e8cf35"/>
<text x="560.4" y="289" font-size="9.5" font-weight="normal" font-style="italic" text-anchor="start" fill="#1a1a1a">Sphingopyxis</text>
<rect x="538.8" y="294.8" width="15.3" height="14.8" fill="#ee962a"/>
<text x="560.4" y="305.6" font-size="9.5" font-weight="normal" font-style="italic" text-anchor="start" fill="#1a1a1a">Stenotrophomonas</text>
<rect x="538.8" y="311.4" width="15.3" height="14.8" fill="#999999"/>
<text x="560.4" y="322.2" font-size="9.5" font-weight="normal" font-style="italic" text-anchor="start" fill="#1a1a1a">Other Genera</text>
<text x="9.8" y="385.6" font-size="20" font-weight="bold" font-style="normal" text-anchor="start" fill="#000" stroke="#000" stroke-width="0.25">b</text>
<text x="50.8" y="384.2" font-size="10" font-weight="bold" font-style="normal" text-anchor="start" fill="#000" stroke="#000" stroke-width="0.25">Richness</text>
<rect x="50.5" y="392.2" width="131.9" height="15.8" fill="#d9d9d9" stroke="#707070" stroke-width="1"/>
<text x="116.45" y="403.05" font-size="8.2" font-weight="bold" font-style="normal" text-anchor="middle" fill="#1a1a1a" stroke="#1a1a1a" stroke-width="0.25">Old Plumbing</text>
<rect x="50.5" y="408" width="131.9" height="93.3" fill="#ffffff"/>
<line x1="50.5" y1="488.05" x2="182.4" y2="488.05" stroke="#f1f1f1" stroke-width="0.5"/>
<line x1="50.5" y1="469.15" x2="182.4" y2="469.15" stroke="#f1f1f1" stroke-width="0.5"/>
<line x1="50.5" y1="450.25" x2="182.4" y2="450.25" stroke="#f1f1f1" stroke-width="0.5"/>
<line x1="50.5" y1="431.35" x2="182.4" y2="431.35" stroke="#f1f1f1" stroke-width="0.5"/>
<line x1="50.5" y1="412.45" x2="182.4" y2="412.45" stroke="#f1f1f1" stroke-width="0.5"/>
<line x1="50.5" y1="497.5" x2="182.4" y2="497.5" stroke="#ebebeb" stroke-width="0.9"/>
<line x1="50.5" y1="478.6" x2="182.4" y2="478.6" stroke="#ebebeb" stroke-width="0.9"/>
<line x1="50.5" y1="459.7" x2="182.4" y2="459.7" stroke="#ebebeb" stroke-width="0.9"/>
<line x1="50.5" y1="440.8" x2="182.4" y2="440.8" stroke="#ebebeb" stroke-width="0.9"/>
<line x1="50.5" y1="421.9" x2="182.4" y2="421.9" stroke="#ebebeb" stroke-width="0.9"/>
<line x1="75.23" y1="408" x2="75.23" y2="501.3" stroke="#ebebeb" stroke-width="0.9"/>
<line x1="116.45" y1="408" x2="116.45" y2="501.3" stroke="#ebebeb" stroke-width="0.9"/>
<line x1="157.67" y1="408" x2="157.67" y2="501.3" stroke="#ebebeb" stroke-width="0.9"/>
<rect x="188.3" y="392.2" width="131.4" height="15.8" fill="#d9d9d9" stroke="#707070" stroke-width="1"/>
<text x="254" y="403.05" font-size="8.2" font-weight="bold" font-style="normal" text-anchor="middle" fill="#1a1a1a" stroke="#1a1a1a" stroke-width="0.25">New Plumbing</text>
<rect x="188.3" y="408" width="131.4" height="93.3" fill="#ffffff"/>
<line x1="188.3" y1="488.05" x2="319.7" y2="488.05" stroke="#f1f1f1" stroke-width="0.5"/>
<line x1="188.3" y1="469.15" x2="319.7" y2="469.15" stroke="#f1f1f1" stroke-width="0.5"/>
<line x1="188.3" y1="450.25" x2="319.7" y2="450.25" stroke="#f1f1f1" stroke-width="0.5"/>
<line x1="188.3" y1="431.35" x2="319.7" y2="431.35" stroke="#f1f1f1" stroke-width="0.5"/>
<line x1="188.3" y1="412.45" x2="319.7" y2="412.45" stroke="#f1f1f1" stroke-width="0.5"/>
<line x1="188.3" y1="497.5" x2="319.7" y2="497.5" stroke="#ebebeb" stroke-width="0.9"/>
<line x1="188.3" y1="478.6" x2="319.7" y2="478.6" stroke="#ebebeb" stroke-width="0.9"/>
<line x1="188.3" y1="459.7" x2="319.7" y2="459.7" stroke="#ebebeb" stroke-width="0.9"/>
<line x1="188.3" y1="440.8" x2="319.7" y2="440.8" stroke="#ebebeb" stroke-width="0.9"/>
<line x1="188.3" y1="421.9" x2="319.7" y2="421.9" stroke="#ebebeb" stroke-width="0.9"/>
<line x1="212.94" y1="408" x2="212.94" y2="501.3" stroke="#ebebeb" stroke-width="0.9"/>
<line x1="254" y1="408" x2="254" y2="501.3" stroke="#ebebeb" stroke-width="0.9"/>
<line x1="295.06" y1="408" x2="295.06" y2="501.3" stroke="#ebebeb" stroke-width="0.9"/>
<line x1="75.1" y1="463.2" x2="75.1" y2="467.3" stroke="#e64b35" stroke-width="1.1"/>
<line x1="75.1" y1="484.3" x2="75.1" y2="487.8" stroke="#e64b35" stroke-width="1.1"/>
<rect x="60.6" y="467.3" width="29" height="17" fill="#ffffff" stroke="#e64b35" stroke-width="1.1"/>
<line x1="60.6" y1="476.7" x2="89.6" y2="476.7" stroke="#e64b35" stroke-width="2"/>
<line x1="116.4" y1="453.2" x2="116.4" y2="455.6" stroke="#e64b35" stroke-width="1.1"/>
<line x1="116.4" y1="466.2" x2="116.4" y2="474" stroke="#e64b35" stroke-width="1.1"/>
<rect x="101.9" y="455.6" width="29" height="10.6" fill="#ffffff" stroke="#e64b35" stroke-width="1.1"/>
<line x1="101.9" y1="460.6" x2="130.9" y2="460.6" stroke="#e64b35" stroke-width="2"/>
<line x1="157.7" y1="445.8" x2="157.7" y2="453.2" stroke="#e64b35" stroke-width="1.1"/>
<line x1="157.7" y1="470.4" x2="157.7" y2="470.4" stroke="#e64b35" stroke-width="1.1"/>
<rect x="143.2" y="453.2" width="29" height="17.2" fill="#ffffff" stroke="#e64b35" stroke-width="1.1"/>
<line x1="143.2" y1="462.1" x2="172.2" y2="462.1" stroke="#e64b35" stroke-width="2"/>
<line x1="212.9" y1="442.7" x2="212.9" y2="458.3" stroke="#5ec0d2" stroke-width="1.1"/>
<line x1="212.9" y1="470.4" x2="212.9" y2="474" stroke="#5ec0d2" stroke-width="1.1"/>
<rect x="198.4" y="458.3" width="29" height="12.1" fill="#ffffff" stroke="#5ec0d2" stroke-width="1.1"/>
<line x1="198.4" y1="461" x2="227.4" y2="461" stroke="#5ec0d2" stroke-width="2"/>
<line x1="254" y1="427" x2="254" y2="438.7" stroke="#5ec0d2" stroke-width="1.1"/>
<line x1="254" y1="459.9" x2="254" y2="465.9" stroke="#5ec0d2" stroke-width="1.1"/>
<rect x="239.5" y="438.7" width="29" height="21.2" fill="#ffffff" stroke="#5ec0d2" stroke-width="1.1"/>
<line x1="239.5" y1="448" x2="268.5" y2="448" stroke="#5ec0d2" stroke-width="2"/>
<line x1="295" y1="419.7" x2="295" y2="436" stroke="#5ec0d2" stroke-width="1.1"/>
<line x1="295" y1="469.5" x2="295" y2="481.6" stroke="#5ec0d2" stroke-width="1.1"/>
<rect x="280.5" y="436" width="29" height="33.5" fill="#ffffff" stroke="#5ec0d2" stroke-width="1.1"/>
<line x1="280.5" y1="461" x2="309.5" y2="461" stroke="#5ec0d2" stroke-width="2"/>
<circle cx="67.9" cy="461.7" r="2.65" fill="#e64b35"/>
<circle cx="74" cy="465.9" r="2.65" fill="#e64b35"/>
<circle cx="66.8" cy="471.1" r="2.65" fill="#e64b35"/>
<circle cx="80.2" cy="482.3" r="2.65" fill="#e64b35"/>
<circle cx="82" cy="484.5" r="2.65" fill="#e64b35"/>
<circle cx="68.4" cy="487.8" r="2.65" fill="#e64b35"/>
<circle cx="112.7" cy="454.3" r="2.65" fill="#e64b35"/>
<circle cx="116" cy="455.6" r="2.65" fill="#e64b35"/>
<circle cx="120.5" cy="456.5" r="2.65" fill="#e64b35"/>
<circle cx="118.2" cy="465.5" r="2.65" fill="#e64b35"/>
<circle cx="122.3" cy="466.2" r="2.65" fill="#e64b35"/>
<circle cx="113.8" cy="474.4" r="2.65" fill="#e64b35"/>
<circle cx="156.3" cy="445.4" r="2.65" fill="#e64b35"/>
<circle cx="162.5" cy="452.1" r="2.65" fill="#e64b35"/>
<circle cx="165.2" cy="456.5" r="2.65" fill="#e64b35"/>
<circle cx="157.4" cy="468.2" r="2.65" fill="#e64b35"/>
<circle cx="152.5" cy="472.2" r="2.65" fill="#e64b35"/>
<circle cx="163.4" cy="471.1" r="2.65" fill="#e64b35"/>
<circle cx="216.9" cy="442.5" r="2.65" fill="#5ec0d2"/>
<circle cx="209.5" cy="457.7" r="2.65" fill="#5ec0d2"/>
<circle cx="215.8" cy="459.9" r="2.65" fill="#5ec0d2"/>
<circle cx="209.1" cy="463.2" r="2.65" fill="#5ec0d2"/>
<circle cx="207.9" cy="474.4" r="2.65" fill="#5ec0d2"/>
<circle cx="212.4" cy="473.3" r="2.65" fill="#5ec0d2"/>
<circle cx="250.4" cy="427" r="2.65" fill="#5ec0d2"/>
<circle cx="254.2" cy="438.7" r="2.65" fill="#5ec0d2"/>
<circle cx="258.7" cy="438.7" r="2.65" fill="#5ec0d2"/>
<circle cx="251.5" cy="457.7" r="2.65" fill="#5ec0d2"/>
<circle cx="262.3" cy="460.6" r="2.65" fill="#5ec0d2"/>
<circle cx="254.4" cy="465.9" r="2.65" fill="#5ec0d2"/>
<circle cx="302.5" cy="419.2" r="2.65" fill="#5ec0d2"/>
<circle cx="287.3" cy="427.9" r="2.65" fill="#5ec0d2"/>
<circle cx="293.3" cy="459.2" r="2.65" fill="#5ec0d2"/>
<circle cx="301.2" cy="462.8" r="2.65" fill="#5ec0d2"/>
<circle cx="291.8" cy="471.7" r="2.65" fill="#5ec0d2"/>
<circle cx="301.4" cy="481.6" r="2.65" fill="#5ec0d2"/>
<rect x="50.5" y="408" width="131.9" height="93.3" fill="none" stroke="#707070" stroke-width="1"/>
<line x1="50" y1="408" x2="182.9" y2="408" stroke="#585858" stroke-width="1.2"/>
<line x1="75.5" y1="501.3" x2="75.5" y2="504.3" stroke="#333333" stroke-width="1"/>
<line x1="116.5" y1="501.3" x2="116.5" y2="504.3" stroke="#333333" stroke-width="1"/>
<line x1="157.5" y1="501.3" x2="157.5" y2="504.3" stroke="#333333" stroke-width="1"/>
<rect x="188.3" y="408" width="131.4" height="93.3" fill="none" stroke="#707070" stroke-width="1"/>
<line x1="187.8" y1="408" x2="320.2" y2="408" stroke="#585858" stroke-width="1.2"/>
<line x1="212.5" y1="501.3" x2="212.5" y2="504.3" stroke="#333333" stroke-width="1"/>
<line x1="254.5" y1="501.3" x2="254.5" y2="504.3" stroke="#333333" stroke-width="1"/>
<line x1="295.5" y1="501.3" x2="295.5" y2="504.3" stroke="#333333" stroke-width="1"/>
<text x="75.1" y="513.1" font-size="8.2" font-weight="normal" font-style="normal" text-anchor="middle" fill="#4d4d4d">1</text>
<text x="116.4" y="513.1" font-size="8.2" font-weight="normal" font-style="normal" text-anchor="middle" fill="#4d4d4d">2</text>
<text x="157.7" y="513.1" font-size="8.2" font-weight="normal" font-style="normal" text-anchor="middle" fill="#4d4d4d">3</text>
<text x="212.9" y="513.1" font-size="8.2" font-weight="normal" font-style="normal" text-anchor="middle" fill="#4d4d4d">4</text>
<text x="254" y="513.1" font-size="8.2" font-weight="normal" font-style="normal" text-anchor="middle" fill="#4d4d4d">5</text>
<text x="295" y="513.1" font-size="8.2" font-weight="normal" font-style="normal" text-anchor="middle" fill="#4d4d4d">6</text>
<text x="185.1" y="522.7" font-size="8.15" font-weight="bold" font-style="normal" text-anchor="middle" fill="#000" stroke="#000" stroke-width="0.25">Sampling Timepoint</text>
<line x1="47.4" y1="497.5" x2="50.5" y2="497.5" stroke="#333333" stroke-width="1"/>
<text x="45.4" y="500.45" font-size="8.2" font-weight="normal" font-style="normal" text-anchor="end" fill="#4d4d4d">100</text>
<line x1="47.4" y1="478.5" x2="50.5" y2="478.5" stroke="#333333" stroke-width="1"/>
<text x="45.4" y="481.55" font-size="8.2" font-weight="normal" font-style="normal" text-anchor="end" fill="#4d4d4d">150</text>
<line x1="47.4" y1="459.5" x2="50.5" y2="459.5" stroke="#333333" stroke-width="1"/>
<text x="45.4" y="462.65" font-size="8.2" font-weight="normal" font-style="normal" text-anchor="end" fill="#4d4d4d">200</text>
<line x1="47.4" y1="440.5" x2="50.5" y2="440.5" stroke="#333333" stroke-width="1"/>
<text x="45.4" y="443.75" font-size="8.2" font-weight="normal" font-style="normal" text-anchor="end" fill="#4d4d4d">250</text>
<line x1="47.4" y1="421.5" x2="50.5" y2="421.5" stroke="#333333" stroke-width="1"/>
<text x="45.4" y="424.85" font-size="8.2" font-weight="normal" font-style="normal" text-anchor="end" fill="#4d4d4d">300</text>
<text x="18.9" y="456.65" font-size="8" font-weight="bold" font-style="normal" text-anchor="middle" fill="#000" transform="rotate(-90 18.9 456.65)" stroke="#000" stroke-width="0.25">Number of</text>
<text x="27.5" y="454.65" font-size="8" font-weight="bold" font-style="normal" text-anchor="middle" fill="#000" transform="rotate(-90 27.5 454.65)" stroke="#000" stroke-width="0.25">Distinct Genera</text>
<text x="78.6" y="422.2" font-size="11" font-weight="normal" font-style="normal" text-anchor="middle" fill="#222">ns</text>
<text x="50.8" y="543.3" font-size="10" font-weight="bold" font-style="normal" text-anchor="start" fill="#000" stroke="#000" stroke-width="0.25">Evenness</text>
<rect x="50.5" y="551.6" width="131.9" height="16.2" fill="#d9d9d9" stroke="#707070" stroke-width="1"/>
<text x="116.45" y="562.65" font-size="8.2" font-weight="bold" font-style="normal" text-anchor="middle" fill="#1a1a1a" stroke="#1a1a1a" stroke-width="0.25">Old Plumbing</text>
<rect x="50.5" y="567.8" width="131.9" height="92.9" fill="#ffffff"/>
<line x1="50.5" y1="656.95" x2="182.4" y2="656.95" stroke="#f1f1f1" stroke-width="0.5"/>
<line x1="50.5" y1="628.65" x2="182.4" y2="628.65" stroke="#f1f1f1" stroke-width="0.5"/>
<line x1="50.5" y1="600.35" x2="182.4" y2="600.35" stroke="#f1f1f1" stroke-width="0.5"/>
<line x1="50.5" y1="572.05" x2="182.4" y2="572.05" stroke="#f1f1f1" stroke-width="0.5"/>
<line x1="50.5" y1="642.8" x2="182.4" y2="642.8" stroke="#ebebeb" stroke-width="0.9"/>
<line x1="50.5" y1="614.5" x2="182.4" y2="614.5" stroke="#ebebeb" stroke-width="0.9"/>
<line x1="50.5" y1="586.2" x2="182.4" y2="586.2" stroke="#ebebeb" stroke-width="0.9"/>
<line x1="75.23" y1="567.8" x2="75.23" y2="660.7" stroke="#ebebeb" stroke-width="0.9"/>
<line x1="116.45" y1="567.8" x2="116.45" y2="660.7" stroke="#ebebeb" stroke-width="0.9"/>
<line x1="157.67" y1="567.8" x2="157.67" y2="660.7" stroke="#ebebeb" stroke-width="0.9"/>
<rect x="188.3" y="551.6" width="131.4" height="16.2" fill="#d9d9d9" stroke="#707070" stroke-width="1"/>
<text x="254" y="562.65" font-size="8.2" font-weight="bold" font-style="normal" text-anchor="middle" fill="#1a1a1a" stroke="#1a1a1a" stroke-width="0.25">New Plumbing</text>
<rect x="188.3" y="567.8" width="131.4" height="92.9" fill="#ffffff"/>
<line x1="188.3" y1="656.95" x2="319.7" y2="656.95" stroke="#f1f1f1" stroke-width="0.5"/>
<line x1="188.3" y1="628.65" x2="319.7" y2="628.65" stroke="#f1f1f1" stroke-width="0.5"/>
<line x1="188.3" y1="600.35" x2="319.7" y2="600.35" stroke="#f1f1f1" stroke-width="0.5"/>
<line x1="188.3" y1="572.05" x2="319.7" y2="572.05" stroke="#f1f1f1" stroke-width="0.5"/>
<line x1="188.3" y1="642.8" x2="319.7" y2="642.8" stroke="#ebebeb" stroke-width="0.9"/>
<line x1="188.3" y1="614.5" x2="319.7" y2="614.5" stroke="#ebebeb" stroke-width="0.9"/>
<line x1="188.3" y1="586.2" x2="319.7" y2="586.2" stroke="#ebebeb" stroke-width="0.9"/>
<line x1="212.94" y1="567.8" x2="212.94" y2="660.7" stroke="#ebebeb" stroke-width="0.9"/>
<line x1="254" y1="567.8" x2="254" y2="660.7" stroke="#ebebeb" stroke-width="0.9"/>
<line x1="295.06" y1="567.8" x2="295.06" y2="660.7" stroke="#ebebeb" stroke-width="0.9"/>
<line x1="75.1" y1="623.23" x2="75.1" y2="623.23" stroke="#e64b35" stroke-width="1.1"/>
<line x1="75.1" y1="632.26" x2="75.1" y2="635.58" stroke="#e64b35" stroke-width="1.1"/>
<rect x="60.6" y="623.23" width="29" height="9.03" fill="#ffffff" stroke="#e64b35" stroke-width="1.1"/>
<line x1="60.6" y1="627.65" x2="89.6" y2="627.65" stroke="#e64b35" stroke-width="2"/>
<line x1="116.4" y1="610.49" x2="116.4" y2="610.49" stroke="#e64b35" stroke-width="1.1"/>
<line x1="116.4" y1="617.71" x2="116.4" y2="617.71" stroke="#e64b35" stroke-width="1.1"/>
<rect x="101.9" y="610.49" width="29" height="7.23" fill="#ffffff" stroke="#e64b35" stroke-width="1.1"/>
<line x1="101.9" y1="612.09" x2="130.9" y2="612.09" stroke="#e64b35" stroke-width="2"/>
<line x1="157.7" y1="604.06" x2="157.7" y2="608.78" stroke="#e64b35" stroke-width="1.1"/>
<line x1="157.7" y1="620.62" x2="157.7" y2="627.05" stroke="#e64b35" stroke-width="1.1"/>
<rect x="143.2" y="608.78" width="29" height="11.84" fill="#ffffff" stroke="#e64b35" stroke-width="1.1"/>
<line x1="143.2" y1="612.9" x2="172.2" y2="612.9" stroke="#e64b35" stroke-width="2"/>
<line x1="212.9" y1="605.97" x2="212.9" y2="605.97" stroke="#5ec0d2" stroke-width="1.1"/>
<line x1="212.9" y1="619.92" x2="212.9" y2="641.2" stroke="#5ec0d2" stroke-width="1.1"/>
<rect x="198.4" y="605.97" width="29" height="13.95" fill="#ffffff" stroke="#5ec0d2" stroke-width="1.1"/>
<line x1="198.4" y1="610.29" x2="227.4" y2="610.29" stroke="#5ec0d2" stroke-width="2"/>
<line x1="254" y1="601.25" x2="254" y2="601.25" stroke="#5ec0d2" stroke-width="1.1"/>
<line x1="254" y1="607.58" x2="254" y2="607.58" stroke="#5ec0d2" stroke-width="1.1"/>
<rect x="239.5" y="601.25" width="29" height="6.32" fill="#ffffff" stroke="#5ec0d2" stroke-width="1.1"/>
<line x1="239.5" y1="604.87" x2="268.5" y2="604.87" stroke="#5ec0d2" stroke-width="2"/>
<line x1="295" y1="579.38" x2="295" y2="594.53" stroke="#5ec0d2" stroke-width="1.1"/>
<line x1="295" y1="617.71" x2="295" y2="632.06" stroke="#5ec0d2" stroke-width="1.1"/>
<rect x="280.5" y="594.53" width="29" height="23.18" fill="#ffffff" stroke="#5ec0d2" stroke-width="1.1"/>
<line x1="280.5" y1="609.18" x2="309.5" y2="609.18" stroke="#5ec0d2" stroke-width="2"/>
<circle cx="83.1" cy="613.2" r="2.65" fill="#e64b35"/>
<circle cx="83.1" cy="623.7" r="2.65" fill="#e64b35"/>
<circle cx="70.9" cy="627.7" r="2.65" fill="#e64b35"/>
<circle cx="70.9" cy="634" r="2.65" fill="#e64b35"/>
<circle cx="80.7" cy="636.2" r="2.65" fill="#e64b35"/>
<circle cx="75.8" cy="641.6" r="2.65" fill="#e64b35"/>
<circle cx="114.2" cy="598.2" r="2.65" fill="#e64b35"/>
<circle cx="108.6" cy="604.9" r="2.65" fill="#e64b35"/>
<circle cx="114.9" cy="611.6" r="2.65" fill="#e64b35"/>
<circle cx="120.5" cy="615.4" r="2.65" fill="#e64b35"/>
<circle cx="116.5" cy="620.3" r="2.65" fill="#e64b35"/>
<circle cx="121.6" cy="630.4" r="2.65" fill="#e64b35"/>
<circle cx="150" cy="608.3" r="2.65" fill="#e64b35"/>
<circle cx="157.4" cy="609.2" r="2.65" fill="#e64b35"/>
<circle cx="157.4" cy="613.2" r="2.65" fill="#e64b35"/>
<circle cx="163.4" cy="613.9" r="2.65" fill="#e64b35"/>
<circle cx="155.8" cy="620.6" r="2.65" fill="#e64b35"/>
<circle cx="155.1" cy="628.8" r="2.65" fill="#e64b35"/>
<circle cx="209.1" cy="605.4" r="2.65" fill="#5ec0d2"/>
<circle cx="212.4" cy="606.5" r="2.65" fill="#5ec0d2"/>
<circle cx="211.3" cy="608.7" r="2.65" fill="#5ec0d2"/>
<circle cx="213.5" cy="609.4" r="2.65" fill="#5ec0d2"/>
<circle cx="212.4" cy="622.1" r="2.65" fill="#5ec0d2"/>
<circle cx="212.4" cy="641.1" r="2.65" fill="#5ec0d2"/>
<circle cx="247.1" cy="589.3" r="2.65" fill="#5ec0d2"/>
<circle cx="246.6" cy="599.8" r="2.65" fill="#5ec0d2"/>
<circle cx="257.1" cy="603.6" r="2.65" fill="#5ec0d2"/>
<circle cx="258.7" cy="604.2" r="2.65" fill="#5ec0d2"/>
<circle cx="254.2" cy="610.5" r="2.65" fill="#5ec0d2"/>
<circle cx="247.5" cy="638.2" r="2.65" fill="#5ec0d2"/>
<circle cx="294" cy="579" r="2.65" fill="#5ec0d2"/>
<circle cx="303" cy="592.6" r="2.65" fill="#5ec0d2"/>
<circle cx="289.1" cy="610.3" r="2.65" fill="#5ec0d2"/>
<circle cx="299.6" cy="613.2" r="2.65" fill="#5ec0d2"/>
<circle cx="290" cy="621.5" r="2.65" fill="#5ec0d2"/>
<circle cx="296.3" cy="633.8" r="2.65" fill="#5ec0d2"/>
<rect x="50.5" y="567.8" width="131.9" height="92.9" fill="none" stroke="#707070" stroke-width="1"/>
<line x1="50" y1="567.8" x2="182.9" y2="567.8" stroke="#585858" stroke-width="1.2"/>
<line x1="75.5" y1="660.7" x2="75.5" y2="663.7" stroke="#333333" stroke-width="1"/>
<line x1="116.5" y1="660.7" x2="116.5" y2="663.7" stroke="#333333" stroke-width="1"/>
<line x1="157.5" y1="660.7" x2="157.5" y2="663.7" stroke="#333333" stroke-width="1"/>
<rect x="188.3" y="567.8" width="131.4" height="92.9" fill="none" stroke="#707070" stroke-width="1"/>
<line x1="187.8" y1="567.8" x2="320.2" y2="567.8" stroke="#585858" stroke-width="1.2"/>
<line x1="212.5" y1="660.7" x2="212.5" y2="663.7" stroke="#333333" stroke-width="1"/>
<line x1="254.5" y1="660.7" x2="254.5" y2="663.7" stroke="#333333" stroke-width="1"/>
<line x1="295.5" y1="660.7" x2="295.5" y2="663.7" stroke="#333333" stroke-width="1"/>
<text x="75.1" y="672.5" font-size="8.2" font-weight="normal" font-style="normal" text-anchor="middle" fill="#4d4d4d">1</text>
<text x="116.4" y="672.5" font-size="8.2" font-weight="normal" font-style="normal" text-anchor="middle" fill="#4d4d4d">2</text>
<text x="157.7" y="672.5" font-size="8.2" font-weight="normal" font-style="normal" text-anchor="middle" fill="#4d4d4d">3</text>
<text x="212.9" y="672.5" font-size="8.2" font-weight="normal" font-style="normal" text-anchor="middle" fill="#4d4d4d">4</text>
<text x="254" y="672.5" font-size="8.2" font-weight="normal" font-style="normal" text-anchor="middle" fill="#4d4d4d">5</text>
<text x="295" y="672.5" font-size="8.2" font-weight="normal" font-style="normal" text-anchor="middle" fill="#4d4d4d">6</text>
<text x="185.1" y="682.1" font-size="8.15" font-weight="bold" font-style="normal" text-anchor="middle" fill="#000" stroke="#000" stroke-width="0.25">Sampling Timepoint</text>
<line x1="47.4" y1="642.5" x2="50.5" y2="642.5" stroke="#333333" stroke-width="1"/>
<text x="45.4" y="645.75" font-size="8.2" font-weight="normal" font-style="normal" text-anchor="end" fill="#4d4d4d">2</text>
<line x1="47.4" y1="614.5" x2="50.5" y2="614.5" stroke="#333333" stroke-width="1"/>
<text x="45.4" y="617.45" font-size="8.2" font-weight="normal" font-style="normal" text-anchor="end" fill="#4d4d4d">3</text>
<line x1="47.4" y1="586.5" x2="50.5" y2="586.5" stroke="#333333" stroke-width="1"/>
<text x="45.4" y="589.15" font-size="8.2" font-weight="normal" font-style="normal" text-anchor="end" fill="#4d4d4d">4</text>
<text x="23.1" y="614.25" font-size="8" font-weight="bold" font-style="normal" text-anchor="middle" fill="#000" transform="rotate(-90 23.1 614.25)" stroke="#000" stroke-width="0.25">Shannon Index</text>
<text x="78.6" y="578.8" font-size="11" font-weight="normal" font-style="normal" text-anchor="middle" fill="#222">ns</text>
<text x="362.3" y="384.4" font-size="20" font-weight="bold" font-style="normal" text-anchor="start" fill="#000" stroke="#000" stroke-width="0.25">c</text>
<text x="403.3" y="383.9" font-size="10.4" font-weight="normal" font-style="normal" text-anchor="start" fill="#000" stroke="#000" stroke-width="0.55">PCoA: Bray distances</text>
<rect x="398.5" y="391.4" width="264" height="205.1" fill="#ffffff"/>
<line x1="424.65" y1="391.4" x2="424.65" y2="596.5" stroke="#f1f1f1" stroke-width="0.5"/>
<line x1="476.35" y1="391.4" x2="476.35" y2="596.5" stroke="#f1f1f1" stroke-width="0.5"/>
<line x1="528.05" y1="391.4" x2="528.05" y2="596.5" stroke="#f1f1f1" stroke-width="0.5"/>
<line x1="579.75" y1="391.4" x2="579.75" y2="596.5" stroke="#f1f1f1" stroke-width="0.5"/>
<line x1="631.45" y1="391.4" x2="631.45" y2="596.5" stroke="#f1f1f1" stroke-width="0.5"/>
<line x1="398.5" y1="571.27" x2="662.5" y2="571.27" stroke="#f1f1f1" stroke-width="0.5"/>
<line x1="398.5" y1="522.62" x2="662.5" y2="522.62" stroke="#f1f1f1" stroke-width="0.5"/>
<line x1="398.5" y1="473.98" x2="662.5" y2="473.98" stroke="#f1f1f1" stroke-width="0.5"/>
<line x1="398.5" y1="425.33" x2="662.5" y2="425.33" stroke="#f1f1f1" stroke-width="0.5"/>
<line x1="398.8" y1="391.4" x2="398.8" y2="596.5" stroke="#ebebeb" stroke-width="0.9"/>
<line x1="450.5" y1="391.4" x2="450.5" y2="596.5" stroke="#ebebeb" stroke-width="0.9"/>
<line x1="502.2" y1="391.4" x2="502.2" y2="596.5" stroke="#ebebeb" stroke-width="0.9"/>
<line x1="553.9" y1="391.4" x2="553.9" y2="596.5" stroke="#ebebeb" stroke-width="0.9"/>
<line x1="605.6" y1="391.4" x2="605.6" y2="596.5" stroke="#ebebeb" stroke-width="0.9"/>
<line x1="657.3" y1="391.4" x2="657.3" y2="596.5" stroke="#ebebeb" stroke-width="0.9"/>
<line x1="398.5" y1="595.6" x2="662.5" y2="595.6" stroke="#ebebeb" stroke-width="0.9"/>
<line x1="398.5" y1="546.95" x2="662.5" y2="546.95" stroke="#ebebeb" stroke-width="0.9"/>
<line x1="398.5" y1="498.3" x2="662.5" y2="498.3" stroke="#ebebeb" stroke-width="0.9"/>
<line x1="398.5" y1="449.65" x2="662.5" y2="449.65" stroke="#ebebeb" stroke-width="0.9"/>
<line x1="398.5" y1="401" x2="662.5" y2="401" stroke="#ebebeb" stroke-width="0.9"/>
<text x="420" y="407" font-size="8.6" font-weight="bold" font-style="normal" text-anchor="start" fill="#000" stroke="#000" stroke-width="0.25">Old Plumbing</text>
<text x="574.8" y="453.3" font-size="8.6" font-weight="bold" font-style="normal" text-anchor="start" fill="#000" stroke="#000" stroke-width="0.25">New Plumbing</text>
<path d="M503.5 422.9H514.3M508.9 417.5V428.3" stroke="#e64b35" stroke-width="1" fill="none"/>
<path d="M478.5 428.24L483.2 436.44L473.8 436.44Z" fill="#e64b35"/>
<path d="M489.9 433.6H500.7M495.3 428.2V439" stroke="#e64b35" stroke-width="1" fill="none"/>
<rect x="458.55" y="443.75" width="6.9" height="6.9" fill="#e64b35"/>
<path d="M477.9 452.4H488.7M483.3 447V457.8" stroke="#e64b35" stroke-width="1" fill="none"/>
<rect x="479.85" y="471.85" width="6.9" height="6.9" fill="#e64b35"/>
<path d="M456.9 484.7H467.5M462.2 479.4V490M458.45 480.95L465.95 488.45M465.95 480.95L458.45 488.45" stroke="#e64b35" stroke-width="1.1" fill="none"/>
<path d="M522.6 492.1h6.8v6.8h-6.8ZM522.6 492.1L529.4 498.9M529.4 492.1L522.6 498.9" stroke="#e64b35" stroke-width="1.25" fill="none"/>
<path d="M522.6 501.4h6.8v6.8h-6.8ZM522.6 501.4L529.4 508.2M529.4 501.4L522.6 508.2" stroke="#e64b35" stroke-width="1.25" fill="none"/>
<path d="M446.6 501h6.8v6.8h-6.8ZM446.6 501L453.4 507.8M453.4 501L446.6 507.8" stroke="#e64b35" stroke-width="1.25" fill="none"/>
<rect x="463.45" y="504.85" width="6.9" height="6.9" fill="#e64b35"/>
<circle cx="448.9" cy="514.1" r="3.4" fill="#e64b35"/>
<path d="M448.4 514.3H459M453.7 509V519.6M449.95 510.55L457.45 518.05M457.45 510.55L449.95 518.05" stroke="#e64b35" stroke-width="1.1" fill="none"/>
<circle cx="461.9" cy="514.2" r="3.4" fill="#e64b35"/>
<circle cx="461.3" cy="522.9" r="3.4" fill="#e64b35"/>
<path d="M443.4 526.7H454M448.7 521.4V532M444.95 522.95L452.45 530.45M452.45 522.95L444.95 530.45" stroke="#e64b35" stroke-width="1.1" fill="none"/>
<path d="M467 534.54L471.7 542.74L462.3 542.74Z" fill="#e64b35"/>
<path d="M469.4 534.54L474.1 542.74L464.7 542.74Z" fill="#e64b35"/>
<circle cx="486.2" cy="490.1" r="3.4" fill="#5ec0d2"/>
<circle cx="509.2" cy="513.6" r="3.4" fill="#5ec0d2"/>
<circle cx="544.7" cy="484.7" r="3.4" fill="#5ec0d2"/>
<path d="M507 538.24L511.7 546.44L502.3 546.44Z" fill="#5ec0d2"/>
<path d="M586.9 495.64L591.6 503.84L582.2 503.84Z" fill="#5ec0d2"/>
<path d="M594.6 499.94L599.3 508.14L589.9 508.14Z" fill="#5ec0d2"/>
<rect x="481.85" y="509.85" width="6.9" height="6.9" fill="#5ec0d2"/>
<rect x="567.25" y="492.05" width="6.9" height="6.9" fill="#5ec0d2"/>
<rect x="549.15" y="505.35" width="6.9" height="6.9" fill="#5ec0d2"/>
<path d="M501.8 471.4H512.6M507.2 466V476.8" stroke="#5ec0d2" stroke-width="1" fill="none"/>
<path d="M476 518.8H486.8M481.4 513.4V524.2" stroke="#5ec0d2" stroke-width="1" fill="none"/>
<path d="M524.8 511.2H535.6M530.2 505.8V516.6" stroke="#5ec0d2" stroke-width="1" fill="none"/>
<path d="M516.8 416.6h6.8v6.8h-6.8ZM516.8 416.6L523.6 423.4M523.6 416.6L516.8 423.4" stroke="#5ec0d2" stroke-width="1.25" fill="none"/>
<path d="M592.7 497h6.8v6.8h-6.8ZM592.7 497L599.5 503.8M599.5 497L592.7 503.8" stroke="#5ec0d2" stroke-width="1.25" fill="none"/>
<path d="M585.4 540.9h6.8v6.8h-6.8ZM585.4 540.9L592.2 547.7M592.2 540.9L585.4 547.7" stroke="#5ec0d2" stroke-width="1.25" fill="none"/>
<path d="M443.3 526.8H453.9M448.6 521.5V532.1M444.85 523.05L452.35 530.55M452.35 523.05L444.85 530.55" stroke="#5ec0d2" stroke-width="1.1" fill="none"/>
<path d="M451.2 525.5H461.8M456.5 520.2V530.8M452.75 521.75L460.25 529.25M460.25 521.75L452.75 529.25" stroke="#5ec0d2" stroke-width="1.1" fill="none"/>
<path d="M553.9 536.1H564.5M559.2 530.8V541.4M555.45 532.35L562.95 539.85M562.95 532.35L555.45 539.85" stroke="#5ec0d2" stroke-width="1.1" fill="none"/>
<ellipse cx="469.8" cy="494.1" rx="98.5" ry="41.2" transform="rotate(-69.7 469.8 494.1)" fill="#828282" fill-opacity="0.2" stroke="#333" stroke-width="0.9"/>
<ellipse cx="530.2" cy="508.4" rx="120.2" ry="57.1" transform="rotate(-4.7 530.2 508.4)" fill="#828282" fill-opacity="0.2" stroke="#333" stroke-width="0.9"/>
<rect x="398.5" y="391.4" width="264" height="205.1" fill="none" stroke="#707070" stroke-width="1"/>
<line x1="395.4" y1="401.5" x2="398.5" y2="401.5" stroke="#333333" stroke-width="1"/>
<text x="393" y="403.7" font-size="7.5" font-weight="bold" font-style="normal" text-anchor="end" fill="#4d4d4d">0.50</text>
<line x1="395.4" y1="449.5" x2="398.5" y2="449.5" stroke="#333333" stroke-width="1"/>
<text x="393" y="452.35" font-size="7.5" font-weight="bold" font-style="normal" text-anchor="end" fill="#4d4d4d">0.25</text>
<line x1="395.4" y1="498.5" x2="398.5" y2="498.5" stroke="#333333" stroke-width="1"/>
<text x="393" y="501" font-size="7.5" font-weight="bold" font-style="normal" text-anchor="end" fill="#4d4d4d">0.00</text>
<line x1="395.4" y1="546.5" x2="398.5" y2="546.5" stroke="#333333" stroke-width="1"/>
<text x="393" y="549.65" font-size="7.5" font-weight="bold" font-style="normal" text-anchor="end" fill="#4d4d4d">−0.25</text>
<line x1="395.4" y1="595.5" x2="398.5" y2="595.5" stroke="#333333" stroke-width="1"/>
<text x="393" y="598.3" font-size="7.5" font-weight="bold" font-style="normal" text-anchor="end" fill="#4d4d4d">−0.50</text>
<line x1="398.5" y1="596.5" x2="398.5" y2="599.6" stroke="#333333" stroke-width="1"/>
<text x="398.8" y="607.2" font-size="7.5" font-weight="bold" font-style="normal" text-anchor="middle" fill="#4d4d4d">−0.50</text>
<line x1="450.5" y1="596.5" x2="450.5" y2="599.6" stroke="#333333" stroke-width="1"/>
<text x="450.5" y="607.2" font-size="7.5" font-weight="bold" font-style="normal" text-anchor="middle" fill="#4d4d4d">−0.25</text>
<line x1="502.5" y1="596.5" x2="502.5" y2="599.6" stroke="#333333" stroke-width="1"/>
<text x="502.2" y="607.2" font-size="7.5" font-weight="bold" font-style="normal" text-anchor="middle" fill="#4d4d4d">0.00</text>
<line x1="553.5" y1="596.5" x2="553.5" y2="599.6" stroke="#333333" stroke-width="1"/>
<text x="553.9" y="607.2" font-size="7.5" font-weight="bold" font-style="normal" text-anchor="middle" fill="#4d4d4d">0.25</text>
<line x1="605.5" y1="596.5" x2="605.5" y2="599.6" stroke="#333333" stroke-width="1"/>
<text x="605.6" y="607.2" font-size="7.5" font-weight="bold" font-style="normal" text-anchor="middle" fill="#4d4d4d">0.50</text>
<line x1="657.5" y1="596.5" x2="657.5" y2="599.6" stroke="#333333" stroke-width="1"/>
<text x="657.3" y="607.2" font-size="7.5" font-weight="bold" font-style="normal" text-anchor="middle" fill="#4d4d4d">0.75</text>
<text x="529.8" y="618.6" font-size="9.45" font-weight="bold" font-style="normal" text-anchor="middle" fill="#000" xml:space="preserve" stroke="#000" stroke-width="0.25">Axis.1   [27.9%]</text>
<text x="369" y="493.6" font-size="9.45" font-weight="bold" font-style="normal" text-anchor="middle" fill="#000" transform="rotate(-90 369 493.6)" stroke="#000" stroke-width="0.25">Axis.2   [17.3%]</text>
<circle cx="429" cy="644.8" r="4.1" fill="#e24c37"/>
<text x="443" y="648.1" font-size="9.3" font-weight="bold" font-style="normal" text-anchor="start" fill="#1a1a1a" stroke="#1a1a1a" stroke-width="0.25">Old</text>
<circle cx="472.1" cy="644.8" r="4.1" fill="#68c3d3"/>
<text x="485.9" y="648.1" font-size="9.3" font-weight="bold" font-style="normal" text-anchor="start" fill="#1a1a1a" stroke="#1a1a1a" stroke-width="0.25">New</text>
<circle cx="539.5" cy="645.1" r="3.4" fill="#000"/>
<text x="553.5" y="648.4" font-size="9.3" font-weight="bold" font-style="normal" text-anchor="start" fill="#1a1a1a" stroke="#1a1a1a" stroke-width="0.25">Room1</text>
<path d="M539.5 656.74L544.2 664.94L534.8 664.94Z" fill="#000"/>
<text x="553.5" y="664.8" font-size="9.3" font-weight="bold" font-style="normal" text-anchor="start" fill="#1a1a1a" stroke="#1a1a1a" stroke-width="0.25">Room2</text>
<rect x="536.05" y="674.45" width="6.9" height="6.9" fill="#000"/>
<text x="553.5" y="681.2" font-size="9.3" font-weight="bold" font-style="normal" text-anchor="start" fill="#1a1a1a" stroke="#1a1a1a" stroke-width="0.25">Room3</text>
<path d="M593.5 645.1H604.3M598.9 639.7V650.5" stroke="#000" stroke-width="1" fill="none"/>
<text x="612.9" y="648.4" font-size="9.3" font-weight="bold" font-style="normal" text-anchor="start" fill="#1a1a1a" stroke="#1a1a1a" stroke-width="0.25">Room4</text>
<path d="M595.5 658.1h6.8v6.8h-6.8ZM595.5 658.1L602.3 664.9M602.3 658.1L595.5 664.9" stroke="#000" stroke-width="1.25" fill="none"/>
<text x="612.9" y="664.8" font-size="9.3" font-weight="bold" font-style="normal" text-anchor="start" fill="#1a1a1a" stroke="#1a1a1a" stroke-width="0.25">Room5</text>
<path d="M593.6 677.9H604.2M598.9 672.6V683.2M595.15 674.15L602.65 681.65M602.65 674.15L595.15 681.65" stroke="#000" stroke-width="1.1" fill="none"/>
<text x="612.9" y="681.2" font-size="9.3" font-weight="bold" font-style="normal" text-anchor="start" fill="#1a1a1a" stroke="#1a1a1a" stroke-width="0.25">Room6</text>
</svg></body></html>
